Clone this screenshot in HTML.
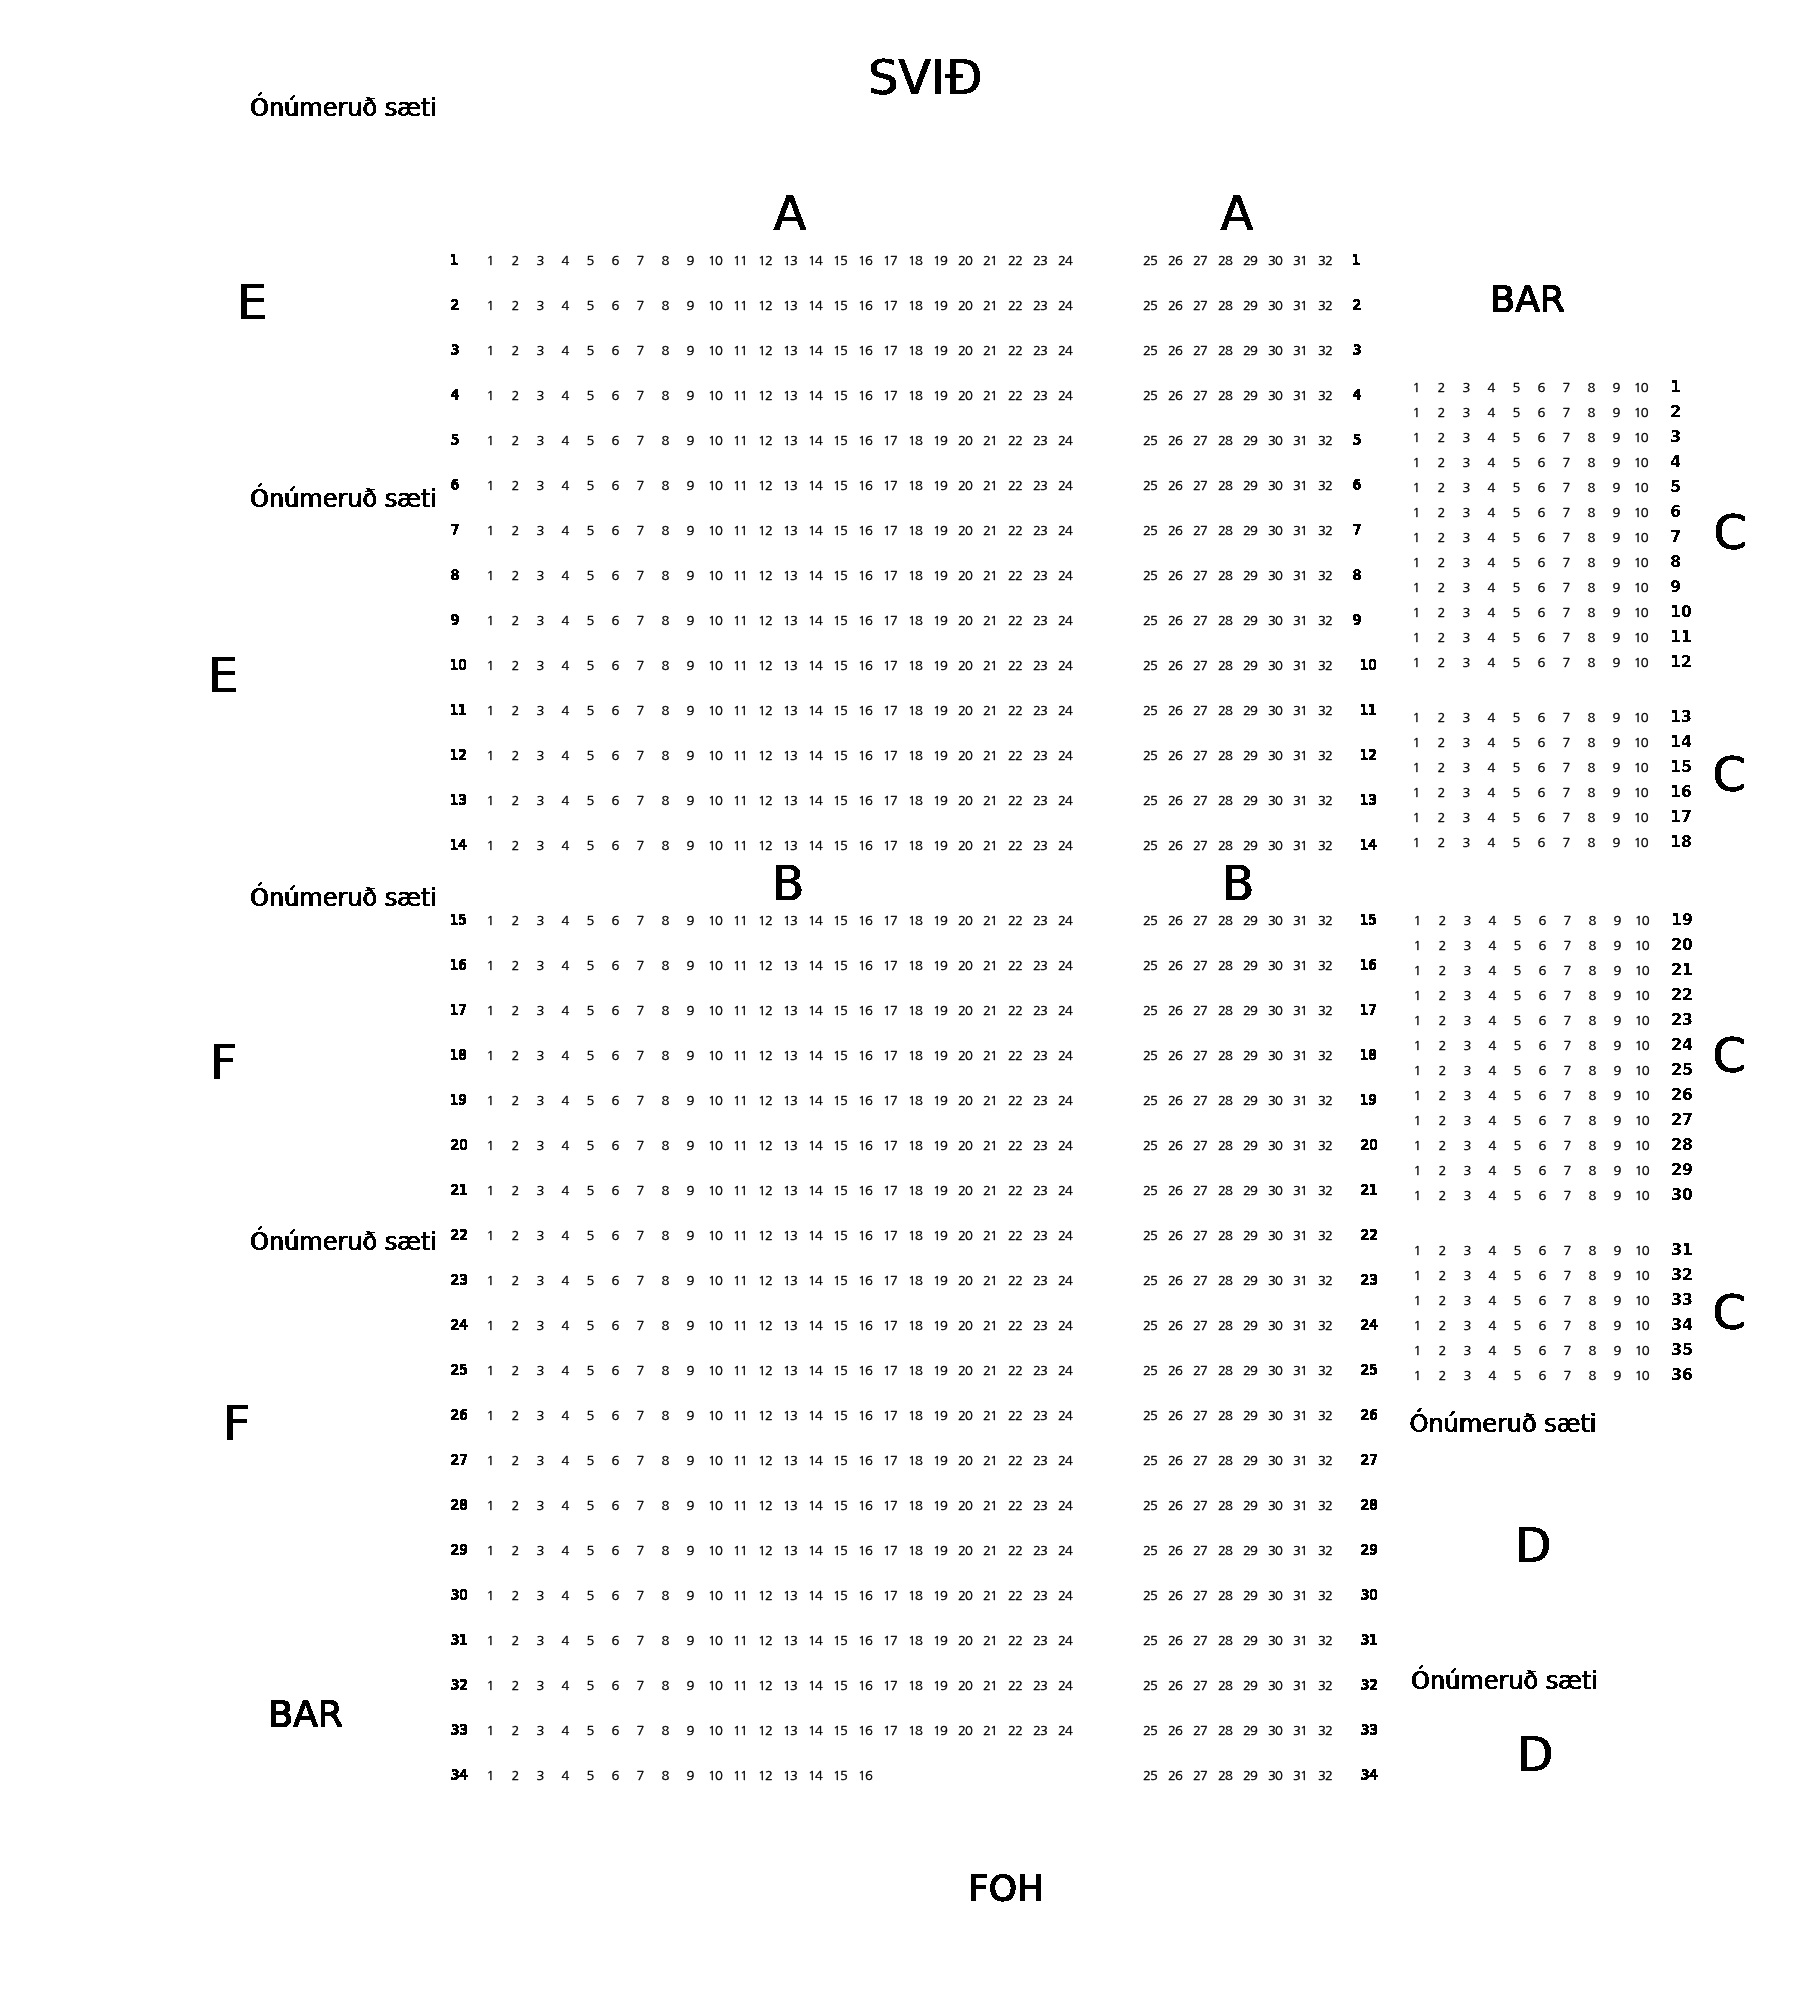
<!DOCTYPE html>
<html lang="is"><head><meta charset="utf-8"><title>Salur</title>
<style>
html,body{margin:0;padding:0;background:#fff}
svg{display:block}
text{fill:#000;white-space:pre}
.s{font-family:"NanumGothic", "Liberation Sans", sans-serif;font-size:13px;letter-spacing:-0.8px;stroke:#000;stroke-width:0.4px}
.rl{font-family:"DejaVu Sans Condensed", "DejaVu Sans", sans-serif;font-size:14.9px;}
.cl{font-family:"DejaVu Sans", sans-serif;font-size:15.5px;font-weight:bold}
.b48{font-family:"DejaVu Sans", sans-serif;font-size:48px}
.b36{font-family:"DejaVu Sans", sans-serif;font-size:36px}
.b24{font-family:"DejaVu Sans", sans-serif;font-size:24px}
</style></head>
<body>
<svg width="1820" height="1990" viewBox="0 0 1820 1990">
<rect width="1820" height="1990" fill="#fff"/>
<defs>
<filter id="th" x="0" y="0" width="1820" height="1990" filterUnits="userSpaceOnUse" color-interpolation-filters="sRGB"><feComponentTransfer><feFuncA type="linear" slope="1" intercept="0"/></feComponentTransfer></filter>
<filter id="thp" x="0" y="0" width="1820" height="1990" filterUnits="userSpaceOnUse" color-interpolation-filters="sRGB"><feComponentTransfer><feFuncA type="discrete" tableValues="0 0 0 0 1 1 1 1 1 1"/></feComponentTransfer></filter>
<filter id="fb2" x="0" y="0" width="1820" height="1990" filterUnits="userSpaceOnUse" color-interpolation-filters="sRGB"><feComponentTransfer result="t"><feFuncA type="discrete" tableValues="0 0 0 0 1 1 1 1 1 1"/></feComponentTransfer><feOffset in="t" dx="1" dy="0" result="o"/><feMerge result="m"><feMergeNode in="t"/><feMergeNode in="o"/></feMerge><feOffset in="m" dx="0" dy="-1" result="u"/><feMerge><feMergeNode in="m"/><feMergeNode in="u"/></feMerge></filter>
<filter id="fb" x="0" y="0" width="1820" height="1990" filterUnits="userSpaceOnUse" color-interpolation-filters="sRGB"><feComponentTransfer result="t"><feFuncA type="discrete" tableValues="0 0 0 0 1 1 1 1 1 1"/></feComponentTransfer><feOffset in="t" dx="1" dy="0" result="o"/><feMerge><feMergeNode in="t"/><feMergeNode in="o"/></feMerge></filter>
</defs>
<g filter="url(#th)">
<text class="s" x="490" y="265" text-anchor="middle">1</text>
<text class="s" x="515" y="265" text-anchor="middle">2</text>
<text class="s" x="540" y="265" text-anchor="middle">3</text>
<text class="s" x="565" y="265" text-anchor="middle">4</text>
<text class="s" x="590" y="265" text-anchor="middle">5</text>
<text class="s" x="615" y="265" text-anchor="middle">6</text>
<text class="s" x="640" y="265" text-anchor="middle">7</text>
<text class="s" x="665" y="265" text-anchor="middle">8</text>
<text class="s" x="690" y="265" text-anchor="middle">9</text>
<text class="s" x="715" y="265" text-anchor="middle">10</text>
<text class="s" x="740" y="265" text-anchor="middle">11</text>
<text class="s" x="765" y="265" text-anchor="middle">12</text>
<text class="s" x="790" y="265" text-anchor="middle">13</text>
<text class="s" x="815" y="265" text-anchor="middle">14</text>
<text class="s" x="840" y="265" text-anchor="middle">15</text>
<text class="s" x="865" y="265" text-anchor="middle">16</text>
<text class="s" x="890" y="265" text-anchor="middle">17</text>
<text class="s" x="915" y="265" text-anchor="middle">18</text>
<text class="s" x="940" y="265" text-anchor="middle">19</text>
<text class="s" x="965" y="265" text-anchor="middle">20</text>
<text class="s" x="990" y="265" text-anchor="middle">21</text>
<text class="s" x="1015" y="265" text-anchor="middle">22</text>
<text class="s" x="1040" y="265" text-anchor="middle">23</text>
<text class="s" x="1065" y="265" text-anchor="middle">24</text>
<text class="s" x="1150" y="265" text-anchor="middle">25</text>
<text class="s" x="1175" y="265" text-anchor="middle">26</text>
<text class="s" x="1200" y="265" text-anchor="middle">27</text>
<text class="s" x="1225" y="265" text-anchor="middle">28</text>
<text class="s" x="1250" y="265" text-anchor="middle">29</text>
<text class="s" x="1275" y="265" text-anchor="middle">30</text>
<text class="s" x="1300" y="265" text-anchor="middle">31</text>
<text class="s" x="1325" y="265" text-anchor="middle">32</text>
<text class="s" x="490" y="310" text-anchor="middle">1</text>
<text class="s" x="515" y="310" text-anchor="middle">2</text>
<text class="s" x="540" y="310" text-anchor="middle">3</text>
<text class="s" x="565" y="310" text-anchor="middle">4</text>
<text class="s" x="590" y="310" text-anchor="middle">5</text>
<text class="s" x="615" y="310" text-anchor="middle">6</text>
<text class="s" x="640" y="310" text-anchor="middle">7</text>
<text class="s" x="665" y="310" text-anchor="middle">8</text>
<text class="s" x="690" y="310" text-anchor="middle">9</text>
<text class="s" x="715" y="310" text-anchor="middle">10</text>
<text class="s" x="740" y="310" text-anchor="middle">11</text>
<text class="s" x="765" y="310" text-anchor="middle">12</text>
<text class="s" x="790" y="310" text-anchor="middle">13</text>
<text class="s" x="815" y="310" text-anchor="middle">14</text>
<text class="s" x="840" y="310" text-anchor="middle">15</text>
<text class="s" x="865" y="310" text-anchor="middle">16</text>
<text class="s" x="890" y="310" text-anchor="middle">17</text>
<text class="s" x="915" y="310" text-anchor="middle">18</text>
<text class="s" x="940" y="310" text-anchor="middle">19</text>
<text class="s" x="965" y="310" text-anchor="middle">20</text>
<text class="s" x="990" y="310" text-anchor="middle">21</text>
<text class="s" x="1015" y="310" text-anchor="middle">22</text>
<text class="s" x="1040" y="310" text-anchor="middle">23</text>
<text class="s" x="1065" y="310" text-anchor="middle">24</text>
<text class="s" x="1150" y="310" text-anchor="middle">25</text>
<text class="s" x="1175" y="310" text-anchor="middle">26</text>
<text class="s" x="1200" y="310" text-anchor="middle">27</text>
<text class="s" x="1225" y="310" text-anchor="middle">28</text>
<text class="s" x="1250" y="310" text-anchor="middle">29</text>
<text class="s" x="1275" y="310" text-anchor="middle">30</text>
<text class="s" x="1300" y="310" text-anchor="middle">31</text>
<text class="s" x="1325" y="310" text-anchor="middle">32</text>
<text class="s" x="490" y="355" text-anchor="middle">1</text>
<text class="s" x="515" y="355" text-anchor="middle">2</text>
<text class="s" x="540" y="355" text-anchor="middle">3</text>
<text class="s" x="565" y="355" text-anchor="middle">4</text>
<text class="s" x="590" y="355" text-anchor="middle">5</text>
<text class="s" x="615" y="355" text-anchor="middle">6</text>
<text class="s" x="640" y="355" text-anchor="middle">7</text>
<text class="s" x="665" y="355" text-anchor="middle">8</text>
<text class="s" x="690" y="355" text-anchor="middle">9</text>
<text class="s" x="715" y="355" text-anchor="middle">10</text>
<text class="s" x="740" y="355" text-anchor="middle">11</text>
<text class="s" x="765" y="355" text-anchor="middle">12</text>
<text class="s" x="790" y="355" text-anchor="middle">13</text>
<text class="s" x="815" y="355" text-anchor="middle">14</text>
<text class="s" x="840" y="355" text-anchor="middle">15</text>
<text class="s" x="865" y="355" text-anchor="middle">16</text>
<text class="s" x="890" y="355" text-anchor="middle">17</text>
<text class="s" x="915" y="355" text-anchor="middle">18</text>
<text class="s" x="940" y="355" text-anchor="middle">19</text>
<text class="s" x="965" y="355" text-anchor="middle">20</text>
<text class="s" x="990" y="355" text-anchor="middle">21</text>
<text class="s" x="1015" y="355" text-anchor="middle">22</text>
<text class="s" x="1040" y="355" text-anchor="middle">23</text>
<text class="s" x="1065" y="355" text-anchor="middle">24</text>
<text class="s" x="1150" y="355" text-anchor="middle">25</text>
<text class="s" x="1175" y="355" text-anchor="middle">26</text>
<text class="s" x="1200" y="355" text-anchor="middle">27</text>
<text class="s" x="1225" y="355" text-anchor="middle">28</text>
<text class="s" x="1250" y="355" text-anchor="middle">29</text>
<text class="s" x="1275" y="355" text-anchor="middle">30</text>
<text class="s" x="1300" y="355" text-anchor="middle">31</text>
<text class="s" x="1325" y="355" text-anchor="middle">32</text>
<text class="s" x="490" y="400" text-anchor="middle">1</text>
<text class="s" x="515" y="400" text-anchor="middle">2</text>
<text class="s" x="540" y="400" text-anchor="middle">3</text>
<text class="s" x="565" y="400" text-anchor="middle">4</text>
<text class="s" x="590" y="400" text-anchor="middle">5</text>
<text class="s" x="615" y="400" text-anchor="middle">6</text>
<text class="s" x="640" y="400" text-anchor="middle">7</text>
<text class="s" x="665" y="400" text-anchor="middle">8</text>
<text class="s" x="690" y="400" text-anchor="middle">9</text>
<text class="s" x="715" y="400" text-anchor="middle">10</text>
<text class="s" x="740" y="400" text-anchor="middle">11</text>
<text class="s" x="765" y="400" text-anchor="middle">12</text>
<text class="s" x="790" y="400" text-anchor="middle">13</text>
<text class="s" x="815" y="400" text-anchor="middle">14</text>
<text class="s" x="840" y="400" text-anchor="middle">15</text>
<text class="s" x="865" y="400" text-anchor="middle">16</text>
<text class="s" x="890" y="400" text-anchor="middle">17</text>
<text class="s" x="915" y="400" text-anchor="middle">18</text>
<text class="s" x="940" y="400" text-anchor="middle">19</text>
<text class="s" x="965" y="400" text-anchor="middle">20</text>
<text class="s" x="990" y="400" text-anchor="middle">21</text>
<text class="s" x="1015" y="400" text-anchor="middle">22</text>
<text class="s" x="1040" y="400" text-anchor="middle">23</text>
<text class="s" x="1065" y="400" text-anchor="middle">24</text>
<text class="s" x="1150" y="400" text-anchor="middle">25</text>
<text class="s" x="1175" y="400" text-anchor="middle">26</text>
<text class="s" x="1200" y="400" text-anchor="middle">27</text>
<text class="s" x="1225" y="400" text-anchor="middle">28</text>
<text class="s" x="1250" y="400" text-anchor="middle">29</text>
<text class="s" x="1275" y="400" text-anchor="middle">30</text>
<text class="s" x="1300" y="400" text-anchor="middle">31</text>
<text class="s" x="1325" y="400" text-anchor="middle">32</text>
<text class="s" x="490" y="445" text-anchor="middle">1</text>
<text class="s" x="515" y="445" text-anchor="middle">2</text>
<text class="s" x="540" y="445" text-anchor="middle">3</text>
<text class="s" x="565" y="445" text-anchor="middle">4</text>
<text class="s" x="590" y="445" text-anchor="middle">5</text>
<text class="s" x="615" y="445" text-anchor="middle">6</text>
<text class="s" x="640" y="445" text-anchor="middle">7</text>
<text class="s" x="665" y="445" text-anchor="middle">8</text>
<text class="s" x="690" y="445" text-anchor="middle">9</text>
<text class="s" x="715" y="445" text-anchor="middle">10</text>
<text class="s" x="740" y="445" text-anchor="middle">11</text>
<text class="s" x="765" y="445" text-anchor="middle">12</text>
<text class="s" x="790" y="445" text-anchor="middle">13</text>
<text class="s" x="815" y="445" text-anchor="middle">14</text>
<text class="s" x="840" y="445" text-anchor="middle">15</text>
<text class="s" x="865" y="445" text-anchor="middle">16</text>
<text class="s" x="890" y="445" text-anchor="middle">17</text>
<text class="s" x="915" y="445" text-anchor="middle">18</text>
<text class="s" x="940" y="445" text-anchor="middle">19</text>
<text class="s" x="965" y="445" text-anchor="middle">20</text>
<text class="s" x="990" y="445" text-anchor="middle">21</text>
<text class="s" x="1015" y="445" text-anchor="middle">22</text>
<text class="s" x="1040" y="445" text-anchor="middle">23</text>
<text class="s" x="1065" y="445" text-anchor="middle">24</text>
<text class="s" x="1150" y="445" text-anchor="middle">25</text>
<text class="s" x="1175" y="445" text-anchor="middle">26</text>
<text class="s" x="1200" y="445" text-anchor="middle">27</text>
<text class="s" x="1225" y="445" text-anchor="middle">28</text>
<text class="s" x="1250" y="445" text-anchor="middle">29</text>
<text class="s" x="1275" y="445" text-anchor="middle">30</text>
<text class="s" x="1300" y="445" text-anchor="middle">31</text>
<text class="s" x="1325" y="445" text-anchor="middle">32</text>
<text class="s" x="490" y="490" text-anchor="middle">1</text>
<text class="s" x="515" y="490" text-anchor="middle">2</text>
<text class="s" x="540" y="490" text-anchor="middle">3</text>
<text class="s" x="565" y="490" text-anchor="middle">4</text>
<text class="s" x="590" y="490" text-anchor="middle">5</text>
<text class="s" x="615" y="490" text-anchor="middle">6</text>
<text class="s" x="640" y="490" text-anchor="middle">7</text>
<text class="s" x="665" y="490" text-anchor="middle">8</text>
<text class="s" x="690" y="490" text-anchor="middle">9</text>
<text class="s" x="715" y="490" text-anchor="middle">10</text>
<text class="s" x="740" y="490" text-anchor="middle">11</text>
<text class="s" x="765" y="490" text-anchor="middle">12</text>
<text class="s" x="790" y="490" text-anchor="middle">13</text>
<text class="s" x="815" y="490" text-anchor="middle">14</text>
<text class="s" x="840" y="490" text-anchor="middle">15</text>
<text class="s" x="865" y="490" text-anchor="middle">16</text>
<text class="s" x="890" y="490" text-anchor="middle">17</text>
<text class="s" x="915" y="490" text-anchor="middle">18</text>
<text class="s" x="940" y="490" text-anchor="middle">19</text>
<text class="s" x="965" y="490" text-anchor="middle">20</text>
<text class="s" x="990" y="490" text-anchor="middle">21</text>
<text class="s" x="1015" y="490" text-anchor="middle">22</text>
<text class="s" x="1040" y="490" text-anchor="middle">23</text>
<text class="s" x="1065" y="490" text-anchor="middle">24</text>
<text class="s" x="1150" y="490" text-anchor="middle">25</text>
<text class="s" x="1175" y="490" text-anchor="middle">26</text>
<text class="s" x="1200" y="490" text-anchor="middle">27</text>
<text class="s" x="1225" y="490" text-anchor="middle">28</text>
<text class="s" x="1250" y="490" text-anchor="middle">29</text>
<text class="s" x="1275" y="490" text-anchor="middle">30</text>
<text class="s" x="1300" y="490" text-anchor="middle">31</text>
<text class="s" x="1325" y="490" text-anchor="middle">32</text>
<text class="s" x="490" y="535" text-anchor="middle">1</text>
<text class="s" x="515" y="535" text-anchor="middle">2</text>
<text class="s" x="540" y="535" text-anchor="middle">3</text>
<text class="s" x="565" y="535" text-anchor="middle">4</text>
<text class="s" x="590" y="535" text-anchor="middle">5</text>
<text class="s" x="615" y="535" text-anchor="middle">6</text>
<text class="s" x="640" y="535" text-anchor="middle">7</text>
<text class="s" x="665" y="535" text-anchor="middle">8</text>
<text class="s" x="690" y="535" text-anchor="middle">9</text>
<text class="s" x="715" y="535" text-anchor="middle">10</text>
<text class="s" x="740" y="535" text-anchor="middle">11</text>
<text class="s" x="765" y="535" text-anchor="middle">12</text>
<text class="s" x="790" y="535" text-anchor="middle">13</text>
<text class="s" x="815" y="535" text-anchor="middle">14</text>
<text class="s" x="840" y="535" text-anchor="middle">15</text>
<text class="s" x="865" y="535" text-anchor="middle">16</text>
<text class="s" x="890" y="535" text-anchor="middle">17</text>
<text class="s" x="915" y="535" text-anchor="middle">18</text>
<text class="s" x="940" y="535" text-anchor="middle">19</text>
<text class="s" x="965" y="535" text-anchor="middle">20</text>
<text class="s" x="990" y="535" text-anchor="middle">21</text>
<text class="s" x="1015" y="535" text-anchor="middle">22</text>
<text class="s" x="1040" y="535" text-anchor="middle">23</text>
<text class="s" x="1065" y="535" text-anchor="middle">24</text>
<text class="s" x="1150" y="535" text-anchor="middle">25</text>
<text class="s" x="1175" y="535" text-anchor="middle">26</text>
<text class="s" x="1200" y="535" text-anchor="middle">27</text>
<text class="s" x="1225" y="535" text-anchor="middle">28</text>
<text class="s" x="1250" y="535" text-anchor="middle">29</text>
<text class="s" x="1275" y="535" text-anchor="middle">30</text>
<text class="s" x="1300" y="535" text-anchor="middle">31</text>
<text class="s" x="1325" y="535" text-anchor="middle">32</text>
<text class="s" x="490" y="580" text-anchor="middle">1</text>
<text class="s" x="515" y="580" text-anchor="middle">2</text>
<text class="s" x="540" y="580" text-anchor="middle">3</text>
<text class="s" x="565" y="580" text-anchor="middle">4</text>
<text class="s" x="590" y="580" text-anchor="middle">5</text>
<text class="s" x="615" y="580" text-anchor="middle">6</text>
<text class="s" x="640" y="580" text-anchor="middle">7</text>
<text class="s" x="665" y="580" text-anchor="middle">8</text>
<text class="s" x="690" y="580" text-anchor="middle">9</text>
<text class="s" x="715" y="580" text-anchor="middle">10</text>
<text class="s" x="740" y="580" text-anchor="middle">11</text>
<text class="s" x="765" y="580" text-anchor="middle">12</text>
<text class="s" x="790" y="580" text-anchor="middle">13</text>
<text class="s" x="815" y="580" text-anchor="middle">14</text>
<text class="s" x="840" y="580" text-anchor="middle">15</text>
<text class="s" x="865" y="580" text-anchor="middle">16</text>
<text class="s" x="890" y="580" text-anchor="middle">17</text>
<text class="s" x="915" y="580" text-anchor="middle">18</text>
<text class="s" x="940" y="580" text-anchor="middle">19</text>
<text class="s" x="965" y="580" text-anchor="middle">20</text>
<text class="s" x="990" y="580" text-anchor="middle">21</text>
<text class="s" x="1015" y="580" text-anchor="middle">22</text>
<text class="s" x="1040" y="580" text-anchor="middle">23</text>
<text class="s" x="1065" y="580" text-anchor="middle">24</text>
<text class="s" x="1150" y="580" text-anchor="middle">25</text>
<text class="s" x="1175" y="580" text-anchor="middle">26</text>
<text class="s" x="1200" y="580" text-anchor="middle">27</text>
<text class="s" x="1225" y="580" text-anchor="middle">28</text>
<text class="s" x="1250" y="580" text-anchor="middle">29</text>
<text class="s" x="1275" y="580" text-anchor="middle">30</text>
<text class="s" x="1300" y="580" text-anchor="middle">31</text>
<text class="s" x="1325" y="580" text-anchor="middle">32</text>
<text class="s" x="490" y="625" text-anchor="middle">1</text>
<text class="s" x="515" y="625" text-anchor="middle">2</text>
<text class="s" x="540" y="625" text-anchor="middle">3</text>
<text class="s" x="565" y="625" text-anchor="middle">4</text>
<text class="s" x="590" y="625" text-anchor="middle">5</text>
<text class="s" x="615" y="625" text-anchor="middle">6</text>
<text class="s" x="640" y="625" text-anchor="middle">7</text>
<text class="s" x="665" y="625" text-anchor="middle">8</text>
<text class="s" x="690" y="625" text-anchor="middle">9</text>
<text class="s" x="715" y="625" text-anchor="middle">10</text>
<text class="s" x="740" y="625" text-anchor="middle">11</text>
<text class="s" x="765" y="625" text-anchor="middle">12</text>
<text class="s" x="790" y="625" text-anchor="middle">13</text>
<text class="s" x="815" y="625" text-anchor="middle">14</text>
<text class="s" x="840" y="625" text-anchor="middle">15</text>
<text class="s" x="865" y="625" text-anchor="middle">16</text>
<text class="s" x="890" y="625" text-anchor="middle">17</text>
<text class="s" x="915" y="625" text-anchor="middle">18</text>
<text class="s" x="940" y="625" text-anchor="middle">19</text>
<text class="s" x="965" y="625" text-anchor="middle">20</text>
<text class="s" x="990" y="625" text-anchor="middle">21</text>
<text class="s" x="1015" y="625" text-anchor="middle">22</text>
<text class="s" x="1040" y="625" text-anchor="middle">23</text>
<text class="s" x="1065" y="625" text-anchor="middle">24</text>
<text class="s" x="1150" y="625" text-anchor="middle">25</text>
<text class="s" x="1175" y="625" text-anchor="middle">26</text>
<text class="s" x="1200" y="625" text-anchor="middle">27</text>
<text class="s" x="1225" y="625" text-anchor="middle">28</text>
<text class="s" x="1250" y="625" text-anchor="middle">29</text>
<text class="s" x="1275" y="625" text-anchor="middle">30</text>
<text class="s" x="1300" y="625" text-anchor="middle">31</text>
<text class="s" x="1325" y="625" text-anchor="middle">32</text>
<text class="s" x="490" y="670" text-anchor="middle">1</text>
<text class="s" x="515" y="670" text-anchor="middle">2</text>
<text class="s" x="540" y="670" text-anchor="middle">3</text>
<text class="s" x="565" y="670" text-anchor="middle">4</text>
<text class="s" x="590" y="670" text-anchor="middle">5</text>
<text class="s" x="615" y="670" text-anchor="middle">6</text>
<text class="s" x="640" y="670" text-anchor="middle">7</text>
<text class="s" x="665" y="670" text-anchor="middle">8</text>
<text class="s" x="690" y="670" text-anchor="middle">9</text>
<text class="s" x="715" y="670" text-anchor="middle">10</text>
<text class="s" x="740" y="670" text-anchor="middle">11</text>
<text class="s" x="765" y="670" text-anchor="middle">12</text>
<text class="s" x="790" y="670" text-anchor="middle">13</text>
<text class="s" x="815" y="670" text-anchor="middle">14</text>
<text class="s" x="840" y="670" text-anchor="middle">15</text>
<text class="s" x="865" y="670" text-anchor="middle">16</text>
<text class="s" x="890" y="670" text-anchor="middle">17</text>
<text class="s" x="915" y="670" text-anchor="middle">18</text>
<text class="s" x="940" y="670" text-anchor="middle">19</text>
<text class="s" x="965" y="670" text-anchor="middle">20</text>
<text class="s" x="990" y="670" text-anchor="middle">21</text>
<text class="s" x="1015" y="670" text-anchor="middle">22</text>
<text class="s" x="1040" y="670" text-anchor="middle">23</text>
<text class="s" x="1065" y="670" text-anchor="middle">24</text>
<text class="s" x="1150" y="670" text-anchor="middle">25</text>
<text class="s" x="1175" y="670" text-anchor="middle">26</text>
<text class="s" x="1200" y="670" text-anchor="middle">27</text>
<text class="s" x="1225" y="670" text-anchor="middle">28</text>
<text class="s" x="1250" y="670" text-anchor="middle">29</text>
<text class="s" x="1275" y="670" text-anchor="middle">30</text>
<text class="s" x="1300" y="670" text-anchor="middle">31</text>
<text class="s" x="1325" y="670" text-anchor="middle">32</text>
<text class="s" x="490" y="715" text-anchor="middle">1</text>
<text class="s" x="515" y="715" text-anchor="middle">2</text>
<text class="s" x="540" y="715" text-anchor="middle">3</text>
<text class="s" x="565" y="715" text-anchor="middle">4</text>
<text class="s" x="590" y="715" text-anchor="middle">5</text>
<text class="s" x="615" y="715" text-anchor="middle">6</text>
<text class="s" x="640" y="715" text-anchor="middle">7</text>
<text class="s" x="665" y="715" text-anchor="middle">8</text>
<text class="s" x="690" y="715" text-anchor="middle">9</text>
<text class="s" x="715" y="715" text-anchor="middle">10</text>
<text class="s" x="740" y="715" text-anchor="middle">11</text>
<text class="s" x="765" y="715" text-anchor="middle">12</text>
<text class="s" x="790" y="715" text-anchor="middle">13</text>
<text class="s" x="815" y="715" text-anchor="middle">14</text>
<text class="s" x="840" y="715" text-anchor="middle">15</text>
<text class="s" x="865" y="715" text-anchor="middle">16</text>
<text class="s" x="890" y="715" text-anchor="middle">17</text>
<text class="s" x="915" y="715" text-anchor="middle">18</text>
<text class="s" x="940" y="715" text-anchor="middle">19</text>
<text class="s" x="965" y="715" text-anchor="middle">20</text>
<text class="s" x="990" y="715" text-anchor="middle">21</text>
<text class="s" x="1015" y="715" text-anchor="middle">22</text>
<text class="s" x="1040" y="715" text-anchor="middle">23</text>
<text class="s" x="1065" y="715" text-anchor="middle">24</text>
<text class="s" x="1150" y="715" text-anchor="middle">25</text>
<text class="s" x="1175" y="715" text-anchor="middle">26</text>
<text class="s" x="1200" y="715" text-anchor="middle">27</text>
<text class="s" x="1225" y="715" text-anchor="middle">28</text>
<text class="s" x="1250" y="715" text-anchor="middle">29</text>
<text class="s" x="1275" y="715" text-anchor="middle">30</text>
<text class="s" x="1300" y="715" text-anchor="middle">31</text>
<text class="s" x="1325" y="715" text-anchor="middle">32</text>
<text class="s" x="490" y="760" text-anchor="middle">1</text>
<text class="s" x="515" y="760" text-anchor="middle">2</text>
<text class="s" x="540" y="760" text-anchor="middle">3</text>
<text class="s" x="565" y="760" text-anchor="middle">4</text>
<text class="s" x="590" y="760" text-anchor="middle">5</text>
<text class="s" x="615" y="760" text-anchor="middle">6</text>
<text class="s" x="640" y="760" text-anchor="middle">7</text>
<text class="s" x="665" y="760" text-anchor="middle">8</text>
<text class="s" x="690" y="760" text-anchor="middle">9</text>
<text class="s" x="715" y="760" text-anchor="middle">10</text>
<text class="s" x="740" y="760" text-anchor="middle">11</text>
<text class="s" x="765" y="760" text-anchor="middle">12</text>
<text class="s" x="790" y="760" text-anchor="middle">13</text>
<text class="s" x="815" y="760" text-anchor="middle">14</text>
<text class="s" x="840" y="760" text-anchor="middle">15</text>
<text class="s" x="865" y="760" text-anchor="middle">16</text>
<text class="s" x="890" y="760" text-anchor="middle">17</text>
<text class="s" x="915" y="760" text-anchor="middle">18</text>
<text class="s" x="940" y="760" text-anchor="middle">19</text>
<text class="s" x="965" y="760" text-anchor="middle">20</text>
<text class="s" x="990" y="760" text-anchor="middle">21</text>
<text class="s" x="1015" y="760" text-anchor="middle">22</text>
<text class="s" x="1040" y="760" text-anchor="middle">23</text>
<text class="s" x="1065" y="760" text-anchor="middle">24</text>
<text class="s" x="1150" y="760" text-anchor="middle">25</text>
<text class="s" x="1175" y="760" text-anchor="middle">26</text>
<text class="s" x="1200" y="760" text-anchor="middle">27</text>
<text class="s" x="1225" y="760" text-anchor="middle">28</text>
<text class="s" x="1250" y="760" text-anchor="middle">29</text>
<text class="s" x="1275" y="760" text-anchor="middle">30</text>
<text class="s" x="1300" y="760" text-anchor="middle">31</text>
<text class="s" x="1325" y="760" text-anchor="middle">32</text>
<text class="s" x="490" y="805" text-anchor="middle">1</text>
<text class="s" x="515" y="805" text-anchor="middle">2</text>
<text class="s" x="540" y="805" text-anchor="middle">3</text>
<text class="s" x="565" y="805" text-anchor="middle">4</text>
<text class="s" x="590" y="805" text-anchor="middle">5</text>
<text class="s" x="615" y="805" text-anchor="middle">6</text>
<text class="s" x="640" y="805" text-anchor="middle">7</text>
<text class="s" x="665" y="805" text-anchor="middle">8</text>
<text class="s" x="690" y="805" text-anchor="middle">9</text>
<text class="s" x="715" y="805" text-anchor="middle">10</text>
<text class="s" x="740" y="805" text-anchor="middle">11</text>
<text class="s" x="765" y="805" text-anchor="middle">12</text>
<text class="s" x="790" y="805" text-anchor="middle">13</text>
<text class="s" x="815" y="805" text-anchor="middle">14</text>
<text class="s" x="840" y="805" text-anchor="middle">15</text>
<text class="s" x="865" y="805" text-anchor="middle">16</text>
<text class="s" x="890" y="805" text-anchor="middle">17</text>
<text class="s" x="915" y="805" text-anchor="middle">18</text>
<text class="s" x="940" y="805" text-anchor="middle">19</text>
<text class="s" x="965" y="805" text-anchor="middle">20</text>
<text class="s" x="990" y="805" text-anchor="middle">21</text>
<text class="s" x="1015" y="805" text-anchor="middle">22</text>
<text class="s" x="1040" y="805" text-anchor="middle">23</text>
<text class="s" x="1065" y="805" text-anchor="middle">24</text>
<text class="s" x="1150" y="805" text-anchor="middle">25</text>
<text class="s" x="1175" y="805" text-anchor="middle">26</text>
<text class="s" x="1200" y="805" text-anchor="middle">27</text>
<text class="s" x="1225" y="805" text-anchor="middle">28</text>
<text class="s" x="1250" y="805" text-anchor="middle">29</text>
<text class="s" x="1275" y="805" text-anchor="middle">30</text>
<text class="s" x="1300" y="805" text-anchor="middle">31</text>
<text class="s" x="1325" y="805" text-anchor="middle">32</text>
<text class="s" x="490" y="850" text-anchor="middle">1</text>
<text class="s" x="515" y="850" text-anchor="middle">2</text>
<text class="s" x="540" y="850" text-anchor="middle">3</text>
<text class="s" x="565" y="850" text-anchor="middle">4</text>
<text class="s" x="590" y="850" text-anchor="middle">5</text>
<text class="s" x="615" y="850" text-anchor="middle">6</text>
<text class="s" x="640" y="850" text-anchor="middle">7</text>
<text class="s" x="665" y="850" text-anchor="middle">8</text>
<text class="s" x="690" y="850" text-anchor="middle">9</text>
<text class="s" x="715" y="850" text-anchor="middle">10</text>
<text class="s" x="740" y="850" text-anchor="middle">11</text>
<text class="s" x="765" y="850" text-anchor="middle">12</text>
<text class="s" x="790" y="850" text-anchor="middle">13</text>
<text class="s" x="815" y="850" text-anchor="middle">14</text>
<text class="s" x="840" y="850" text-anchor="middle">15</text>
<text class="s" x="865" y="850" text-anchor="middle">16</text>
<text class="s" x="890" y="850" text-anchor="middle">17</text>
<text class="s" x="915" y="850" text-anchor="middle">18</text>
<text class="s" x="940" y="850" text-anchor="middle">19</text>
<text class="s" x="965" y="850" text-anchor="middle">20</text>
<text class="s" x="990" y="850" text-anchor="middle">21</text>
<text class="s" x="1015" y="850" text-anchor="middle">22</text>
<text class="s" x="1040" y="850" text-anchor="middle">23</text>
<text class="s" x="1065" y="850" text-anchor="middle">24</text>
<text class="s" x="1150" y="850" text-anchor="middle">25</text>
<text class="s" x="1175" y="850" text-anchor="middle">26</text>
<text class="s" x="1200" y="850" text-anchor="middle">27</text>
<text class="s" x="1225" y="850" text-anchor="middle">28</text>
<text class="s" x="1250" y="850" text-anchor="middle">29</text>
<text class="s" x="1275" y="850" text-anchor="middle">30</text>
<text class="s" x="1300" y="850" text-anchor="middle">31</text>
<text class="s" x="1325" y="850" text-anchor="middle">32</text>
<text class="s" x="490" y="925" text-anchor="middle">1</text>
<text class="s" x="515" y="925" text-anchor="middle">2</text>
<text class="s" x="540" y="925" text-anchor="middle">3</text>
<text class="s" x="565" y="925" text-anchor="middle">4</text>
<text class="s" x="590" y="925" text-anchor="middle">5</text>
<text class="s" x="615" y="925" text-anchor="middle">6</text>
<text class="s" x="640" y="925" text-anchor="middle">7</text>
<text class="s" x="665" y="925" text-anchor="middle">8</text>
<text class="s" x="690" y="925" text-anchor="middle">9</text>
<text class="s" x="715" y="925" text-anchor="middle">10</text>
<text class="s" x="740" y="925" text-anchor="middle">11</text>
<text class="s" x="765" y="925" text-anchor="middle">12</text>
<text class="s" x="790" y="925" text-anchor="middle">13</text>
<text class="s" x="815" y="925" text-anchor="middle">14</text>
<text class="s" x="840" y="925" text-anchor="middle">15</text>
<text class="s" x="865" y="925" text-anchor="middle">16</text>
<text class="s" x="890" y="925" text-anchor="middle">17</text>
<text class="s" x="915" y="925" text-anchor="middle">18</text>
<text class="s" x="940" y="925" text-anchor="middle">19</text>
<text class="s" x="965" y="925" text-anchor="middle">20</text>
<text class="s" x="990" y="925" text-anchor="middle">21</text>
<text class="s" x="1015" y="925" text-anchor="middle">22</text>
<text class="s" x="1040" y="925" text-anchor="middle">23</text>
<text class="s" x="1065" y="925" text-anchor="middle">24</text>
<text class="s" x="1150" y="925" text-anchor="middle">25</text>
<text class="s" x="1175" y="925" text-anchor="middle">26</text>
<text class="s" x="1200" y="925" text-anchor="middle">27</text>
<text class="s" x="1225" y="925" text-anchor="middle">28</text>
<text class="s" x="1250" y="925" text-anchor="middle">29</text>
<text class="s" x="1275" y="925" text-anchor="middle">30</text>
<text class="s" x="1300" y="925" text-anchor="middle">31</text>
<text class="s" x="1325" y="925" text-anchor="middle">32</text>
<text class="s" x="490" y="970" text-anchor="middle">1</text>
<text class="s" x="515" y="970" text-anchor="middle">2</text>
<text class="s" x="540" y="970" text-anchor="middle">3</text>
<text class="s" x="565" y="970" text-anchor="middle">4</text>
<text class="s" x="590" y="970" text-anchor="middle">5</text>
<text class="s" x="615" y="970" text-anchor="middle">6</text>
<text class="s" x="640" y="970" text-anchor="middle">7</text>
<text class="s" x="665" y="970" text-anchor="middle">8</text>
<text class="s" x="690" y="970" text-anchor="middle">9</text>
<text class="s" x="715" y="970" text-anchor="middle">10</text>
<text class="s" x="740" y="970" text-anchor="middle">11</text>
<text class="s" x="765" y="970" text-anchor="middle">12</text>
<text class="s" x="790" y="970" text-anchor="middle">13</text>
<text class="s" x="815" y="970" text-anchor="middle">14</text>
<text class="s" x="840" y="970" text-anchor="middle">15</text>
<text class="s" x="865" y="970" text-anchor="middle">16</text>
<text class="s" x="890" y="970" text-anchor="middle">17</text>
<text class="s" x="915" y="970" text-anchor="middle">18</text>
<text class="s" x="940" y="970" text-anchor="middle">19</text>
<text class="s" x="965" y="970" text-anchor="middle">20</text>
<text class="s" x="990" y="970" text-anchor="middle">21</text>
<text class="s" x="1015" y="970" text-anchor="middle">22</text>
<text class="s" x="1040" y="970" text-anchor="middle">23</text>
<text class="s" x="1065" y="970" text-anchor="middle">24</text>
<text class="s" x="1150" y="970" text-anchor="middle">25</text>
<text class="s" x="1175" y="970" text-anchor="middle">26</text>
<text class="s" x="1200" y="970" text-anchor="middle">27</text>
<text class="s" x="1225" y="970" text-anchor="middle">28</text>
<text class="s" x="1250" y="970" text-anchor="middle">29</text>
<text class="s" x="1275" y="970" text-anchor="middle">30</text>
<text class="s" x="1300" y="970" text-anchor="middle">31</text>
<text class="s" x="1325" y="970" text-anchor="middle">32</text>
<text class="s" x="490" y="1015" text-anchor="middle">1</text>
<text class="s" x="515" y="1015" text-anchor="middle">2</text>
<text class="s" x="540" y="1015" text-anchor="middle">3</text>
<text class="s" x="565" y="1015" text-anchor="middle">4</text>
<text class="s" x="590" y="1015" text-anchor="middle">5</text>
<text class="s" x="615" y="1015" text-anchor="middle">6</text>
<text class="s" x="640" y="1015" text-anchor="middle">7</text>
<text class="s" x="665" y="1015" text-anchor="middle">8</text>
<text class="s" x="690" y="1015" text-anchor="middle">9</text>
<text class="s" x="715" y="1015" text-anchor="middle">10</text>
<text class="s" x="740" y="1015" text-anchor="middle">11</text>
<text class="s" x="765" y="1015" text-anchor="middle">12</text>
<text class="s" x="790" y="1015" text-anchor="middle">13</text>
<text class="s" x="815" y="1015" text-anchor="middle">14</text>
<text class="s" x="840" y="1015" text-anchor="middle">15</text>
<text class="s" x="865" y="1015" text-anchor="middle">16</text>
<text class="s" x="890" y="1015" text-anchor="middle">17</text>
<text class="s" x="915" y="1015" text-anchor="middle">18</text>
<text class="s" x="940" y="1015" text-anchor="middle">19</text>
<text class="s" x="965" y="1015" text-anchor="middle">20</text>
<text class="s" x="990" y="1015" text-anchor="middle">21</text>
<text class="s" x="1015" y="1015" text-anchor="middle">22</text>
<text class="s" x="1040" y="1015" text-anchor="middle">23</text>
<text class="s" x="1065" y="1015" text-anchor="middle">24</text>
<text class="s" x="1150" y="1015" text-anchor="middle">25</text>
<text class="s" x="1175" y="1015" text-anchor="middle">26</text>
<text class="s" x="1200" y="1015" text-anchor="middle">27</text>
<text class="s" x="1225" y="1015" text-anchor="middle">28</text>
<text class="s" x="1250" y="1015" text-anchor="middle">29</text>
<text class="s" x="1275" y="1015" text-anchor="middle">30</text>
<text class="s" x="1300" y="1015" text-anchor="middle">31</text>
<text class="s" x="1325" y="1015" text-anchor="middle">32</text>
<text class="s" x="490" y="1060" text-anchor="middle">1</text>
<text class="s" x="515" y="1060" text-anchor="middle">2</text>
<text class="s" x="540" y="1060" text-anchor="middle">3</text>
<text class="s" x="565" y="1060" text-anchor="middle">4</text>
<text class="s" x="590" y="1060" text-anchor="middle">5</text>
<text class="s" x="615" y="1060" text-anchor="middle">6</text>
<text class="s" x="640" y="1060" text-anchor="middle">7</text>
<text class="s" x="665" y="1060" text-anchor="middle">8</text>
<text class="s" x="690" y="1060" text-anchor="middle">9</text>
<text class="s" x="715" y="1060" text-anchor="middle">10</text>
<text class="s" x="740" y="1060" text-anchor="middle">11</text>
<text class="s" x="765" y="1060" text-anchor="middle">12</text>
<text class="s" x="790" y="1060" text-anchor="middle">13</text>
<text class="s" x="815" y="1060" text-anchor="middle">14</text>
<text class="s" x="840" y="1060" text-anchor="middle">15</text>
<text class="s" x="865" y="1060" text-anchor="middle">16</text>
<text class="s" x="890" y="1060" text-anchor="middle">17</text>
<text class="s" x="915" y="1060" text-anchor="middle">18</text>
<text class="s" x="940" y="1060" text-anchor="middle">19</text>
<text class="s" x="965" y="1060" text-anchor="middle">20</text>
<text class="s" x="990" y="1060" text-anchor="middle">21</text>
<text class="s" x="1015" y="1060" text-anchor="middle">22</text>
<text class="s" x="1040" y="1060" text-anchor="middle">23</text>
<text class="s" x="1065" y="1060" text-anchor="middle">24</text>
<text class="s" x="1150" y="1060" text-anchor="middle">25</text>
<text class="s" x="1175" y="1060" text-anchor="middle">26</text>
<text class="s" x="1200" y="1060" text-anchor="middle">27</text>
<text class="s" x="1225" y="1060" text-anchor="middle">28</text>
<text class="s" x="1250" y="1060" text-anchor="middle">29</text>
<text class="s" x="1275" y="1060" text-anchor="middle">30</text>
<text class="s" x="1300" y="1060" text-anchor="middle">31</text>
<text class="s" x="1325" y="1060" text-anchor="middle">32</text>
<text class="s" x="490" y="1105" text-anchor="middle">1</text>
<text class="s" x="515" y="1105" text-anchor="middle">2</text>
<text class="s" x="540" y="1105" text-anchor="middle">3</text>
<text class="s" x="565" y="1105" text-anchor="middle">4</text>
<text class="s" x="590" y="1105" text-anchor="middle">5</text>
<text class="s" x="615" y="1105" text-anchor="middle">6</text>
<text class="s" x="640" y="1105" text-anchor="middle">7</text>
<text class="s" x="665" y="1105" text-anchor="middle">8</text>
<text class="s" x="690" y="1105" text-anchor="middle">9</text>
<text class="s" x="715" y="1105" text-anchor="middle">10</text>
<text class="s" x="740" y="1105" text-anchor="middle">11</text>
<text class="s" x="765" y="1105" text-anchor="middle">12</text>
<text class="s" x="790" y="1105" text-anchor="middle">13</text>
<text class="s" x="815" y="1105" text-anchor="middle">14</text>
<text class="s" x="840" y="1105" text-anchor="middle">15</text>
<text class="s" x="865" y="1105" text-anchor="middle">16</text>
<text class="s" x="890" y="1105" text-anchor="middle">17</text>
<text class="s" x="915" y="1105" text-anchor="middle">18</text>
<text class="s" x="940" y="1105" text-anchor="middle">19</text>
<text class="s" x="965" y="1105" text-anchor="middle">20</text>
<text class="s" x="990" y="1105" text-anchor="middle">21</text>
<text class="s" x="1015" y="1105" text-anchor="middle">22</text>
<text class="s" x="1040" y="1105" text-anchor="middle">23</text>
<text class="s" x="1065" y="1105" text-anchor="middle">24</text>
<text class="s" x="1150" y="1105" text-anchor="middle">25</text>
<text class="s" x="1175" y="1105" text-anchor="middle">26</text>
<text class="s" x="1200" y="1105" text-anchor="middle">27</text>
<text class="s" x="1225" y="1105" text-anchor="middle">28</text>
<text class="s" x="1250" y="1105" text-anchor="middle">29</text>
<text class="s" x="1275" y="1105" text-anchor="middle">30</text>
<text class="s" x="1300" y="1105" text-anchor="middle">31</text>
<text class="s" x="1325" y="1105" text-anchor="middle">32</text>
<text class="s" x="490" y="1150" text-anchor="middle">1</text>
<text class="s" x="515" y="1150" text-anchor="middle">2</text>
<text class="s" x="540" y="1150" text-anchor="middle">3</text>
<text class="s" x="565" y="1150" text-anchor="middle">4</text>
<text class="s" x="590" y="1150" text-anchor="middle">5</text>
<text class="s" x="615" y="1150" text-anchor="middle">6</text>
<text class="s" x="640" y="1150" text-anchor="middle">7</text>
<text class="s" x="665" y="1150" text-anchor="middle">8</text>
<text class="s" x="690" y="1150" text-anchor="middle">9</text>
<text class="s" x="715" y="1150" text-anchor="middle">10</text>
<text class="s" x="740" y="1150" text-anchor="middle">11</text>
<text class="s" x="765" y="1150" text-anchor="middle">12</text>
<text class="s" x="790" y="1150" text-anchor="middle">13</text>
<text class="s" x="815" y="1150" text-anchor="middle">14</text>
<text class="s" x="840" y="1150" text-anchor="middle">15</text>
<text class="s" x="865" y="1150" text-anchor="middle">16</text>
<text class="s" x="890" y="1150" text-anchor="middle">17</text>
<text class="s" x="915" y="1150" text-anchor="middle">18</text>
<text class="s" x="940" y="1150" text-anchor="middle">19</text>
<text class="s" x="965" y="1150" text-anchor="middle">20</text>
<text class="s" x="990" y="1150" text-anchor="middle">21</text>
<text class="s" x="1015" y="1150" text-anchor="middle">22</text>
<text class="s" x="1040" y="1150" text-anchor="middle">23</text>
<text class="s" x="1065" y="1150" text-anchor="middle">24</text>
<text class="s" x="1150" y="1150" text-anchor="middle">25</text>
<text class="s" x="1175" y="1150" text-anchor="middle">26</text>
<text class="s" x="1200" y="1150" text-anchor="middle">27</text>
<text class="s" x="1225" y="1150" text-anchor="middle">28</text>
<text class="s" x="1250" y="1150" text-anchor="middle">29</text>
<text class="s" x="1275" y="1150" text-anchor="middle">30</text>
<text class="s" x="1300" y="1150" text-anchor="middle">31</text>
<text class="s" x="1325" y="1150" text-anchor="middle">32</text>
<text class="s" x="490" y="1195" text-anchor="middle">1</text>
<text class="s" x="515" y="1195" text-anchor="middle">2</text>
<text class="s" x="540" y="1195" text-anchor="middle">3</text>
<text class="s" x="565" y="1195" text-anchor="middle">4</text>
<text class="s" x="590" y="1195" text-anchor="middle">5</text>
<text class="s" x="615" y="1195" text-anchor="middle">6</text>
<text class="s" x="640" y="1195" text-anchor="middle">7</text>
<text class="s" x="665" y="1195" text-anchor="middle">8</text>
<text class="s" x="690" y="1195" text-anchor="middle">9</text>
<text class="s" x="715" y="1195" text-anchor="middle">10</text>
<text class="s" x="740" y="1195" text-anchor="middle">11</text>
<text class="s" x="765" y="1195" text-anchor="middle">12</text>
<text class="s" x="790" y="1195" text-anchor="middle">13</text>
<text class="s" x="815" y="1195" text-anchor="middle">14</text>
<text class="s" x="840" y="1195" text-anchor="middle">15</text>
<text class="s" x="865" y="1195" text-anchor="middle">16</text>
<text class="s" x="890" y="1195" text-anchor="middle">17</text>
<text class="s" x="915" y="1195" text-anchor="middle">18</text>
<text class="s" x="940" y="1195" text-anchor="middle">19</text>
<text class="s" x="965" y="1195" text-anchor="middle">20</text>
<text class="s" x="990" y="1195" text-anchor="middle">21</text>
<text class="s" x="1015" y="1195" text-anchor="middle">22</text>
<text class="s" x="1040" y="1195" text-anchor="middle">23</text>
<text class="s" x="1065" y="1195" text-anchor="middle">24</text>
<text class="s" x="1150" y="1195" text-anchor="middle">25</text>
<text class="s" x="1175" y="1195" text-anchor="middle">26</text>
<text class="s" x="1200" y="1195" text-anchor="middle">27</text>
<text class="s" x="1225" y="1195" text-anchor="middle">28</text>
<text class="s" x="1250" y="1195" text-anchor="middle">29</text>
<text class="s" x="1275" y="1195" text-anchor="middle">30</text>
<text class="s" x="1300" y="1195" text-anchor="middle">31</text>
<text class="s" x="1325" y="1195" text-anchor="middle">32</text>
<text class="s" x="490" y="1240" text-anchor="middle">1</text>
<text class="s" x="515" y="1240" text-anchor="middle">2</text>
<text class="s" x="540" y="1240" text-anchor="middle">3</text>
<text class="s" x="565" y="1240" text-anchor="middle">4</text>
<text class="s" x="590" y="1240" text-anchor="middle">5</text>
<text class="s" x="615" y="1240" text-anchor="middle">6</text>
<text class="s" x="640" y="1240" text-anchor="middle">7</text>
<text class="s" x="665" y="1240" text-anchor="middle">8</text>
<text class="s" x="690" y="1240" text-anchor="middle">9</text>
<text class="s" x="715" y="1240" text-anchor="middle">10</text>
<text class="s" x="740" y="1240" text-anchor="middle">11</text>
<text class="s" x="765" y="1240" text-anchor="middle">12</text>
<text class="s" x="790" y="1240" text-anchor="middle">13</text>
<text class="s" x="815" y="1240" text-anchor="middle">14</text>
<text class="s" x="840" y="1240" text-anchor="middle">15</text>
<text class="s" x="865" y="1240" text-anchor="middle">16</text>
<text class="s" x="890" y="1240" text-anchor="middle">17</text>
<text class="s" x="915" y="1240" text-anchor="middle">18</text>
<text class="s" x="940" y="1240" text-anchor="middle">19</text>
<text class="s" x="965" y="1240" text-anchor="middle">20</text>
<text class="s" x="990" y="1240" text-anchor="middle">21</text>
<text class="s" x="1015" y="1240" text-anchor="middle">22</text>
<text class="s" x="1040" y="1240" text-anchor="middle">23</text>
<text class="s" x="1065" y="1240" text-anchor="middle">24</text>
<text class="s" x="1150" y="1240" text-anchor="middle">25</text>
<text class="s" x="1175" y="1240" text-anchor="middle">26</text>
<text class="s" x="1200" y="1240" text-anchor="middle">27</text>
<text class="s" x="1225" y="1240" text-anchor="middle">28</text>
<text class="s" x="1250" y="1240" text-anchor="middle">29</text>
<text class="s" x="1275" y="1240" text-anchor="middle">30</text>
<text class="s" x="1300" y="1240" text-anchor="middle">31</text>
<text class="s" x="1325" y="1240" text-anchor="middle">32</text>
<text class="s" x="490" y="1285" text-anchor="middle">1</text>
<text class="s" x="515" y="1285" text-anchor="middle">2</text>
<text class="s" x="540" y="1285" text-anchor="middle">3</text>
<text class="s" x="565" y="1285" text-anchor="middle">4</text>
<text class="s" x="590" y="1285" text-anchor="middle">5</text>
<text class="s" x="615" y="1285" text-anchor="middle">6</text>
<text class="s" x="640" y="1285" text-anchor="middle">7</text>
<text class="s" x="665" y="1285" text-anchor="middle">8</text>
<text class="s" x="690" y="1285" text-anchor="middle">9</text>
<text class="s" x="715" y="1285" text-anchor="middle">10</text>
<text class="s" x="740" y="1285" text-anchor="middle">11</text>
<text class="s" x="765" y="1285" text-anchor="middle">12</text>
<text class="s" x="790" y="1285" text-anchor="middle">13</text>
<text class="s" x="815" y="1285" text-anchor="middle">14</text>
<text class="s" x="840" y="1285" text-anchor="middle">15</text>
<text class="s" x="865" y="1285" text-anchor="middle">16</text>
<text class="s" x="890" y="1285" text-anchor="middle">17</text>
<text class="s" x="915" y="1285" text-anchor="middle">18</text>
<text class="s" x="940" y="1285" text-anchor="middle">19</text>
<text class="s" x="965" y="1285" text-anchor="middle">20</text>
<text class="s" x="990" y="1285" text-anchor="middle">21</text>
<text class="s" x="1015" y="1285" text-anchor="middle">22</text>
<text class="s" x="1040" y="1285" text-anchor="middle">23</text>
<text class="s" x="1065" y="1285" text-anchor="middle">24</text>
<text class="s" x="1150" y="1285" text-anchor="middle">25</text>
<text class="s" x="1175" y="1285" text-anchor="middle">26</text>
<text class="s" x="1200" y="1285" text-anchor="middle">27</text>
<text class="s" x="1225" y="1285" text-anchor="middle">28</text>
<text class="s" x="1250" y="1285" text-anchor="middle">29</text>
<text class="s" x="1275" y="1285" text-anchor="middle">30</text>
<text class="s" x="1300" y="1285" text-anchor="middle">31</text>
<text class="s" x="1325" y="1285" text-anchor="middle">32</text>
<text class="s" x="490" y="1330" text-anchor="middle">1</text>
<text class="s" x="515" y="1330" text-anchor="middle">2</text>
<text class="s" x="540" y="1330" text-anchor="middle">3</text>
<text class="s" x="565" y="1330" text-anchor="middle">4</text>
<text class="s" x="590" y="1330" text-anchor="middle">5</text>
<text class="s" x="615" y="1330" text-anchor="middle">6</text>
<text class="s" x="640" y="1330" text-anchor="middle">7</text>
<text class="s" x="665" y="1330" text-anchor="middle">8</text>
<text class="s" x="690" y="1330" text-anchor="middle">9</text>
<text class="s" x="715" y="1330" text-anchor="middle">10</text>
<text class="s" x="740" y="1330" text-anchor="middle">11</text>
<text class="s" x="765" y="1330" text-anchor="middle">12</text>
<text class="s" x="790" y="1330" text-anchor="middle">13</text>
<text class="s" x="815" y="1330" text-anchor="middle">14</text>
<text class="s" x="840" y="1330" text-anchor="middle">15</text>
<text class="s" x="865" y="1330" text-anchor="middle">16</text>
<text class="s" x="890" y="1330" text-anchor="middle">17</text>
<text class="s" x="915" y="1330" text-anchor="middle">18</text>
<text class="s" x="940" y="1330" text-anchor="middle">19</text>
<text class="s" x="965" y="1330" text-anchor="middle">20</text>
<text class="s" x="990" y="1330" text-anchor="middle">21</text>
<text class="s" x="1015" y="1330" text-anchor="middle">22</text>
<text class="s" x="1040" y="1330" text-anchor="middle">23</text>
<text class="s" x="1065" y="1330" text-anchor="middle">24</text>
<text class="s" x="1150" y="1330" text-anchor="middle">25</text>
<text class="s" x="1175" y="1330" text-anchor="middle">26</text>
<text class="s" x="1200" y="1330" text-anchor="middle">27</text>
<text class="s" x="1225" y="1330" text-anchor="middle">28</text>
<text class="s" x="1250" y="1330" text-anchor="middle">29</text>
<text class="s" x="1275" y="1330" text-anchor="middle">30</text>
<text class="s" x="1300" y="1330" text-anchor="middle">31</text>
<text class="s" x="1325" y="1330" text-anchor="middle">32</text>
<text class="s" x="490" y="1375" text-anchor="middle">1</text>
<text class="s" x="515" y="1375" text-anchor="middle">2</text>
<text class="s" x="540" y="1375" text-anchor="middle">3</text>
<text class="s" x="565" y="1375" text-anchor="middle">4</text>
<text class="s" x="590" y="1375" text-anchor="middle">5</text>
<text class="s" x="615" y="1375" text-anchor="middle">6</text>
<text class="s" x="640" y="1375" text-anchor="middle">7</text>
<text class="s" x="665" y="1375" text-anchor="middle">8</text>
<text class="s" x="690" y="1375" text-anchor="middle">9</text>
<text class="s" x="715" y="1375" text-anchor="middle">10</text>
<text class="s" x="740" y="1375" text-anchor="middle">11</text>
<text class="s" x="765" y="1375" text-anchor="middle">12</text>
<text class="s" x="790" y="1375" text-anchor="middle">13</text>
<text class="s" x="815" y="1375" text-anchor="middle">14</text>
<text class="s" x="840" y="1375" text-anchor="middle">15</text>
<text class="s" x="865" y="1375" text-anchor="middle">16</text>
<text class="s" x="890" y="1375" text-anchor="middle">17</text>
<text class="s" x="915" y="1375" text-anchor="middle">18</text>
<text class="s" x="940" y="1375" text-anchor="middle">19</text>
<text class="s" x="965" y="1375" text-anchor="middle">20</text>
<text class="s" x="990" y="1375" text-anchor="middle">21</text>
<text class="s" x="1015" y="1375" text-anchor="middle">22</text>
<text class="s" x="1040" y="1375" text-anchor="middle">23</text>
<text class="s" x="1065" y="1375" text-anchor="middle">24</text>
<text class="s" x="1150" y="1375" text-anchor="middle">25</text>
<text class="s" x="1175" y="1375" text-anchor="middle">26</text>
<text class="s" x="1200" y="1375" text-anchor="middle">27</text>
<text class="s" x="1225" y="1375" text-anchor="middle">28</text>
<text class="s" x="1250" y="1375" text-anchor="middle">29</text>
<text class="s" x="1275" y="1375" text-anchor="middle">30</text>
<text class="s" x="1300" y="1375" text-anchor="middle">31</text>
<text class="s" x="1325" y="1375" text-anchor="middle">32</text>
<text class="s" x="490" y="1420" text-anchor="middle">1</text>
<text class="s" x="515" y="1420" text-anchor="middle">2</text>
<text class="s" x="540" y="1420" text-anchor="middle">3</text>
<text class="s" x="565" y="1420" text-anchor="middle">4</text>
<text class="s" x="590" y="1420" text-anchor="middle">5</text>
<text class="s" x="615" y="1420" text-anchor="middle">6</text>
<text class="s" x="640" y="1420" text-anchor="middle">7</text>
<text class="s" x="665" y="1420" text-anchor="middle">8</text>
<text class="s" x="690" y="1420" text-anchor="middle">9</text>
<text class="s" x="715" y="1420" text-anchor="middle">10</text>
<text class="s" x="740" y="1420" text-anchor="middle">11</text>
<text class="s" x="765" y="1420" text-anchor="middle">12</text>
<text class="s" x="790" y="1420" text-anchor="middle">13</text>
<text class="s" x="815" y="1420" text-anchor="middle">14</text>
<text class="s" x="840" y="1420" text-anchor="middle">15</text>
<text class="s" x="865" y="1420" text-anchor="middle">16</text>
<text class="s" x="890" y="1420" text-anchor="middle">17</text>
<text class="s" x="915" y="1420" text-anchor="middle">18</text>
<text class="s" x="940" y="1420" text-anchor="middle">19</text>
<text class="s" x="965" y="1420" text-anchor="middle">20</text>
<text class="s" x="990" y="1420" text-anchor="middle">21</text>
<text class="s" x="1015" y="1420" text-anchor="middle">22</text>
<text class="s" x="1040" y="1420" text-anchor="middle">23</text>
<text class="s" x="1065" y="1420" text-anchor="middle">24</text>
<text class="s" x="1150" y="1420" text-anchor="middle">25</text>
<text class="s" x="1175" y="1420" text-anchor="middle">26</text>
<text class="s" x="1200" y="1420" text-anchor="middle">27</text>
<text class="s" x="1225" y="1420" text-anchor="middle">28</text>
<text class="s" x="1250" y="1420" text-anchor="middle">29</text>
<text class="s" x="1275" y="1420" text-anchor="middle">30</text>
<text class="s" x="1300" y="1420" text-anchor="middle">31</text>
<text class="s" x="1325" y="1420" text-anchor="middle">32</text>
<text class="s" x="490" y="1465" text-anchor="middle">1</text>
<text class="s" x="515" y="1465" text-anchor="middle">2</text>
<text class="s" x="540" y="1465" text-anchor="middle">3</text>
<text class="s" x="565" y="1465" text-anchor="middle">4</text>
<text class="s" x="590" y="1465" text-anchor="middle">5</text>
<text class="s" x="615" y="1465" text-anchor="middle">6</text>
<text class="s" x="640" y="1465" text-anchor="middle">7</text>
<text class="s" x="665" y="1465" text-anchor="middle">8</text>
<text class="s" x="690" y="1465" text-anchor="middle">9</text>
<text class="s" x="715" y="1465" text-anchor="middle">10</text>
<text class="s" x="740" y="1465" text-anchor="middle">11</text>
<text class="s" x="765" y="1465" text-anchor="middle">12</text>
<text class="s" x="790" y="1465" text-anchor="middle">13</text>
<text class="s" x="815" y="1465" text-anchor="middle">14</text>
<text class="s" x="840" y="1465" text-anchor="middle">15</text>
<text class="s" x="865" y="1465" text-anchor="middle">16</text>
<text class="s" x="890" y="1465" text-anchor="middle">17</text>
<text class="s" x="915" y="1465" text-anchor="middle">18</text>
<text class="s" x="940" y="1465" text-anchor="middle">19</text>
<text class="s" x="965" y="1465" text-anchor="middle">20</text>
<text class="s" x="990" y="1465" text-anchor="middle">21</text>
<text class="s" x="1015" y="1465" text-anchor="middle">22</text>
<text class="s" x="1040" y="1465" text-anchor="middle">23</text>
<text class="s" x="1065" y="1465" text-anchor="middle">24</text>
<text class="s" x="1150" y="1465" text-anchor="middle">25</text>
<text class="s" x="1175" y="1465" text-anchor="middle">26</text>
<text class="s" x="1200" y="1465" text-anchor="middle">27</text>
<text class="s" x="1225" y="1465" text-anchor="middle">28</text>
<text class="s" x="1250" y="1465" text-anchor="middle">29</text>
<text class="s" x="1275" y="1465" text-anchor="middle">30</text>
<text class="s" x="1300" y="1465" text-anchor="middle">31</text>
<text class="s" x="1325" y="1465" text-anchor="middle">32</text>
<text class="s" x="490" y="1510" text-anchor="middle">1</text>
<text class="s" x="515" y="1510" text-anchor="middle">2</text>
<text class="s" x="540" y="1510" text-anchor="middle">3</text>
<text class="s" x="565" y="1510" text-anchor="middle">4</text>
<text class="s" x="590" y="1510" text-anchor="middle">5</text>
<text class="s" x="615" y="1510" text-anchor="middle">6</text>
<text class="s" x="640" y="1510" text-anchor="middle">7</text>
<text class="s" x="665" y="1510" text-anchor="middle">8</text>
<text class="s" x="690" y="1510" text-anchor="middle">9</text>
<text class="s" x="715" y="1510" text-anchor="middle">10</text>
<text class="s" x="740" y="1510" text-anchor="middle">11</text>
<text class="s" x="765" y="1510" text-anchor="middle">12</text>
<text class="s" x="790" y="1510" text-anchor="middle">13</text>
<text class="s" x="815" y="1510" text-anchor="middle">14</text>
<text class="s" x="840" y="1510" text-anchor="middle">15</text>
<text class="s" x="865" y="1510" text-anchor="middle">16</text>
<text class="s" x="890" y="1510" text-anchor="middle">17</text>
<text class="s" x="915" y="1510" text-anchor="middle">18</text>
<text class="s" x="940" y="1510" text-anchor="middle">19</text>
<text class="s" x="965" y="1510" text-anchor="middle">20</text>
<text class="s" x="990" y="1510" text-anchor="middle">21</text>
<text class="s" x="1015" y="1510" text-anchor="middle">22</text>
<text class="s" x="1040" y="1510" text-anchor="middle">23</text>
<text class="s" x="1065" y="1510" text-anchor="middle">24</text>
<text class="s" x="1150" y="1510" text-anchor="middle">25</text>
<text class="s" x="1175" y="1510" text-anchor="middle">26</text>
<text class="s" x="1200" y="1510" text-anchor="middle">27</text>
<text class="s" x="1225" y="1510" text-anchor="middle">28</text>
<text class="s" x="1250" y="1510" text-anchor="middle">29</text>
<text class="s" x="1275" y="1510" text-anchor="middle">30</text>
<text class="s" x="1300" y="1510" text-anchor="middle">31</text>
<text class="s" x="1325" y="1510" text-anchor="middle">32</text>
<text class="s" x="490" y="1555" text-anchor="middle">1</text>
<text class="s" x="515" y="1555" text-anchor="middle">2</text>
<text class="s" x="540" y="1555" text-anchor="middle">3</text>
<text class="s" x="565" y="1555" text-anchor="middle">4</text>
<text class="s" x="590" y="1555" text-anchor="middle">5</text>
<text class="s" x="615" y="1555" text-anchor="middle">6</text>
<text class="s" x="640" y="1555" text-anchor="middle">7</text>
<text class="s" x="665" y="1555" text-anchor="middle">8</text>
<text class="s" x="690" y="1555" text-anchor="middle">9</text>
<text class="s" x="715" y="1555" text-anchor="middle">10</text>
<text class="s" x="740" y="1555" text-anchor="middle">11</text>
<text class="s" x="765" y="1555" text-anchor="middle">12</text>
<text class="s" x="790" y="1555" text-anchor="middle">13</text>
<text class="s" x="815" y="1555" text-anchor="middle">14</text>
<text class="s" x="840" y="1555" text-anchor="middle">15</text>
<text class="s" x="865" y="1555" text-anchor="middle">16</text>
<text class="s" x="890" y="1555" text-anchor="middle">17</text>
<text class="s" x="915" y="1555" text-anchor="middle">18</text>
<text class="s" x="940" y="1555" text-anchor="middle">19</text>
<text class="s" x="965" y="1555" text-anchor="middle">20</text>
<text class="s" x="990" y="1555" text-anchor="middle">21</text>
<text class="s" x="1015" y="1555" text-anchor="middle">22</text>
<text class="s" x="1040" y="1555" text-anchor="middle">23</text>
<text class="s" x="1065" y="1555" text-anchor="middle">24</text>
<text class="s" x="1150" y="1555" text-anchor="middle">25</text>
<text class="s" x="1175" y="1555" text-anchor="middle">26</text>
<text class="s" x="1200" y="1555" text-anchor="middle">27</text>
<text class="s" x="1225" y="1555" text-anchor="middle">28</text>
<text class="s" x="1250" y="1555" text-anchor="middle">29</text>
<text class="s" x="1275" y="1555" text-anchor="middle">30</text>
<text class="s" x="1300" y="1555" text-anchor="middle">31</text>
<text class="s" x="1325" y="1555" text-anchor="middle">32</text>
<text class="s" x="490" y="1600" text-anchor="middle">1</text>
<text class="s" x="515" y="1600" text-anchor="middle">2</text>
<text class="s" x="540" y="1600" text-anchor="middle">3</text>
<text class="s" x="565" y="1600" text-anchor="middle">4</text>
<text class="s" x="590" y="1600" text-anchor="middle">5</text>
<text class="s" x="615" y="1600" text-anchor="middle">6</text>
<text class="s" x="640" y="1600" text-anchor="middle">7</text>
<text class="s" x="665" y="1600" text-anchor="middle">8</text>
<text class="s" x="690" y="1600" text-anchor="middle">9</text>
<text class="s" x="715" y="1600" text-anchor="middle">10</text>
<text class="s" x="740" y="1600" text-anchor="middle">11</text>
<text class="s" x="765" y="1600" text-anchor="middle">12</text>
<text class="s" x="790" y="1600" text-anchor="middle">13</text>
<text class="s" x="815" y="1600" text-anchor="middle">14</text>
<text class="s" x="840" y="1600" text-anchor="middle">15</text>
<text class="s" x="865" y="1600" text-anchor="middle">16</text>
<text class="s" x="890" y="1600" text-anchor="middle">17</text>
<text class="s" x="915" y="1600" text-anchor="middle">18</text>
<text class="s" x="940" y="1600" text-anchor="middle">19</text>
<text class="s" x="965" y="1600" text-anchor="middle">20</text>
<text class="s" x="990" y="1600" text-anchor="middle">21</text>
<text class="s" x="1015" y="1600" text-anchor="middle">22</text>
<text class="s" x="1040" y="1600" text-anchor="middle">23</text>
<text class="s" x="1065" y="1600" text-anchor="middle">24</text>
<text class="s" x="1150" y="1600" text-anchor="middle">25</text>
<text class="s" x="1175" y="1600" text-anchor="middle">26</text>
<text class="s" x="1200" y="1600" text-anchor="middle">27</text>
<text class="s" x="1225" y="1600" text-anchor="middle">28</text>
<text class="s" x="1250" y="1600" text-anchor="middle">29</text>
<text class="s" x="1275" y="1600" text-anchor="middle">30</text>
<text class="s" x="1300" y="1600" text-anchor="middle">31</text>
<text class="s" x="1325" y="1600" text-anchor="middle">32</text>
<text class="s" x="490" y="1645" text-anchor="middle">1</text>
<text class="s" x="515" y="1645" text-anchor="middle">2</text>
<text class="s" x="540" y="1645" text-anchor="middle">3</text>
<text class="s" x="565" y="1645" text-anchor="middle">4</text>
<text class="s" x="590" y="1645" text-anchor="middle">5</text>
<text class="s" x="615" y="1645" text-anchor="middle">6</text>
<text class="s" x="640" y="1645" text-anchor="middle">7</text>
<text class="s" x="665" y="1645" text-anchor="middle">8</text>
<text class="s" x="690" y="1645" text-anchor="middle">9</text>
<text class="s" x="715" y="1645" text-anchor="middle">10</text>
<text class="s" x="740" y="1645" text-anchor="middle">11</text>
<text class="s" x="765" y="1645" text-anchor="middle">12</text>
<text class="s" x="790" y="1645" text-anchor="middle">13</text>
<text class="s" x="815" y="1645" text-anchor="middle">14</text>
<text class="s" x="840" y="1645" text-anchor="middle">15</text>
<text class="s" x="865" y="1645" text-anchor="middle">16</text>
<text class="s" x="890" y="1645" text-anchor="middle">17</text>
<text class="s" x="915" y="1645" text-anchor="middle">18</text>
<text class="s" x="940" y="1645" text-anchor="middle">19</text>
<text class="s" x="965" y="1645" text-anchor="middle">20</text>
<text class="s" x="990" y="1645" text-anchor="middle">21</text>
<text class="s" x="1015" y="1645" text-anchor="middle">22</text>
<text class="s" x="1040" y="1645" text-anchor="middle">23</text>
<text class="s" x="1065" y="1645" text-anchor="middle">24</text>
<text class="s" x="1150" y="1645" text-anchor="middle">25</text>
<text class="s" x="1175" y="1645" text-anchor="middle">26</text>
<text class="s" x="1200" y="1645" text-anchor="middle">27</text>
<text class="s" x="1225" y="1645" text-anchor="middle">28</text>
<text class="s" x="1250" y="1645" text-anchor="middle">29</text>
<text class="s" x="1275" y="1645" text-anchor="middle">30</text>
<text class="s" x="1300" y="1645" text-anchor="middle">31</text>
<text class="s" x="1325" y="1645" text-anchor="middle">32</text>
<text class="s" x="490" y="1690" text-anchor="middle">1</text>
<text class="s" x="515" y="1690" text-anchor="middle">2</text>
<text class="s" x="540" y="1690" text-anchor="middle">3</text>
<text class="s" x="565" y="1690" text-anchor="middle">4</text>
<text class="s" x="590" y="1690" text-anchor="middle">5</text>
<text class="s" x="615" y="1690" text-anchor="middle">6</text>
<text class="s" x="640" y="1690" text-anchor="middle">7</text>
<text class="s" x="665" y="1690" text-anchor="middle">8</text>
<text class="s" x="690" y="1690" text-anchor="middle">9</text>
<text class="s" x="715" y="1690" text-anchor="middle">10</text>
<text class="s" x="740" y="1690" text-anchor="middle">11</text>
<text class="s" x="765" y="1690" text-anchor="middle">12</text>
<text class="s" x="790" y="1690" text-anchor="middle">13</text>
<text class="s" x="815" y="1690" text-anchor="middle">14</text>
<text class="s" x="840" y="1690" text-anchor="middle">15</text>
<text class="s" x="865" y="1690" text-anchor="middle">16</text>
<text class="s" x="890" y="1690" text-anchor="middle">17</text>
<text class="s" x="915" y="1690" text-anchor="middle">18</text>
<text class="s" x="940" y="1690" text-anchor="middle">19</text>
<text class="s" x="965" y="1690" text-anchor="middle">20</text>
<text class="s" x="990" y="1690" text-anchor="middle">21</text>
<text class="s" x="1015" y="1690" text-anchor="middle">22</text>
<text class="s" x="1040" y="1690" text-anchor="middle">23</text>
<text class="s" x="1065" y="1690" text-anchor="middle">24</text>
<text class="s" x="1150" y="1690" text-anchor="middle">25</text>
<text class="s" x="1175" y="1690" text-anchor="middle">26</text>
<text class="s" x="1200" y="1690" text-anchor="middle">27</text>
<text class="s" x="1225" y="1690" text-anchor="middle">28</text>
<text class="s" x="1250" y="1690" text-anchor="middle">29</text>
<text class="s" x="1275" y="1690" text-anchor="middle">30</text>
<text class="s" x="1300" y="1690" text-anchor="middle">31</text>
<text class="s" x="1325" y="1690" text-anchor="middle">32</text>
<text class="s" x="490" y="1735" text-anchor="middle">1</text>
<text class="s" x="515" y="1735" text-anchor="middle">2</text>
<text class="s" x="540" y="1735" text-anchor="middle">3</text>
<text class="s" x="565" y="1735" text-anchor="middle">4</text>
<text class="s" x="590" y="1735" text-anchor="middle">5</text>
<text class="s" x="615" y="1735" text-anchor="middle">6</text>
<text class="s" x="640" y="1735" text-anchor="middle">7</text>
<text class="s" x="665" y="1735" text-anchor="middle">8</text>
<text class="s" x="690" y="1735" text-anchor="middle">9</text>
<text class="s" x="715" y="1735" text-anchor="middle">10</text>
<text class="s" x="740" y="1735" text-anchor="middle">11</text>
<text class="s" x="765" y="1735" text-anchor="middle">12</text>
<text class="s" x="790" y="1735" text-anchor="middle">13</text>
<text class="s" x="815" y="1735" text-anchor="middle">14</text>
<text class="s" x="840" y="1735" text-anchor="middle">15</text>
<text class="s" x="865" y="1735" text-anchor="middle">16</text>
<text class="s" x="890" y="1735" text-anchor="middle">17</text>
<text class="s" x="915" y="1735" text-anchor="middle">18</text>
<text class="s" x="940" y="1735" text-anchor="middle">19</text>
<text class="s" x="965" y="1735" text-anchor="middle">20</text>
<text class="s" x="990" y="1735" text-anchor="middle">21</text>
<text class="s" x="1015" y="1735" text-anchor="middle">22</text>
<text class="s" x="1040" y="1735" text-anchor="middle">23</text>
<text class="s" x="1065" y="1735" text-anchor="middle">24</text>
<text class="s" x="1150" y="1735" text-anchor="middle">25</text>
<text class="s" x="1175" y="1735" text-anchor="middle">26</text>
<text class="s" x="1200" y="1735" text-anchor="middle">27</text>
<text class="s" x="1225" y="1735" text-anchor="middle">28</text>
<text class="s" x="1250" y="1735" text-anchor="middle">29</text>
<text class="s" x="1275" y="1735" text-anchor="middle">30</text>
<text class="s" x="1300" y="1735" text-anchor="middle">31</text>
<text class="s" x="1325" y="1735" text-anchor="middle">32</text>
<text class="s" x="490" y="1780" text-anchor="middle">1</text>
<text class="s" x="515" y="1780" text-anchor="middle">2</text>
<text class="s" x="540" y="1780" text-anchor="middle">3</text>
<text class="s" x="565" y="1780" text-anchor="middle">4</text>
<text class="s" x="590" y="1780" text-anchor="middle">5</text>
<text class="s" x="615" y="1780" text-anchor="middle">6</text>
<text class="s" x="640" y="1780" text-anchor="middle">7</text>
<text class="s" x="665" y="1780" text-anchor="middle">8</text>
<text class="s" x="690" y="1780" text-anchor="middle">9</text>
<text class="s" x="715" y="1780" text-anchor="middle">10</text>
<text class="s" x="740" y="1780" text-anchor="middle">11</text>
<text class="s" x="765" y="1780" text-anchor="middle">12</text>
<text class="s" x="790" y="1780" text-anchor="middle">13</text>
<text class="s" x="815" y="1780" text-anchor="middle">14</text>
<text class="s" x="840" y="1780" text-anchor="middle">15</text>
<text class="s" x="865" y="1780" text-anchor="middle">16</text>
<text class="s" x="1150" y="1780" text-anchor="middle">25</text>
<text class="s" x="1175" y="1780" text-anchor="middle">26</text>
<text class="s" x="1200" y="1780" text-anchor="middle">27</text>
<text class="s" x="1225" y="1780" text-anchor="middle">28</text>
<text class="s" x="1250" y="1780" text-anchor="middle">29</text>
<text class="s" x="1275" y="1780" text-anchor="middle">30</text>
<text class="s" x="1300" y="1780" text-anchor="middle">31</text>
<text class="s" x="1325" y="1780" text-anchor="middle">32</text>
<text class="s" x="1416" y="392" text-anchor="middle">1</text>
<text class="s" x="1441" y="392" text-anchor="middle">2</text>
<text class="s" x="1466" y="392" text-anchor="middle">3</text>
<text class="s" x="1491" y="392" text-anchor="middle">4</text>
<text class="s" x="1516" y="392" text-anchor="middle">5</text>
<text class="s" x="1541" y="392" text-anchor="middle">6</text>
<text class="s" x="1566" y="392" text-anchor="middle">7</text>
<text class="s" x="1591" y="392" text-anchor="middle">8</text>
<text class="s" x="1616" y="392" text-anchor="middle">9</text>
<text class="s" x="1640.75" y="392" text-anchor="middle">10</text>
<text class="s" x="1416" y="417" text-anchor="middle">1</text>
<text class="s" x="1441" y="417" text-anchor="middle">2</text>
<text class="s" x="1466" y="417" text-anchor="middle">3</text>
<text class="s" x="1491" y="417" text-anchor="middle">4</text>
<text class="s" x="1516" y="417" text-anchor="middle">5</text>
<text class="s" x="1541" y="417" text-anchor="middle">6</text>
<text class="s" x="1566" y="417" text-anchor="middle">7</text>
<text class="s" x="1591" y="417" text-anchor="middle">8</text>
<text class="s" x="1616" y="417" text-anchor="middle">9</text>
<text class="s" x="1640.75" y="417" text-anchor="middle">10</text>
<text class="s" x="1416" y="442" text-anchor="middle">1</text>
<text class="s" x="1441" y="442" text-anchor="middle">2</text>
<text class="s" x="1466" y="442" text-anchor="middle">3</text>
<text class="s" x="1491" y="442" text-anchor="middle">4</text>
<text class="s" x="1516" y="442" text-anchor="middle">5</text>
<text class="s" x="1541" y="442" text-anchor="middle">6</text>
<text class="s" x="1566" y="442" text-anchor="middle">7</text>
<text class="s" x="1591" y="442" text-anchor="middle">8</text>
<text class="s" x="1616" y="442" text-anchor="middle">9</text>
<text class="s" x="1640.75" y="442" text-anchor="middle">10</text>
<text class="s" x="1416" y="467" text-anchor="middle">1</text>
<text class="s" x="1441" y="467" text-anchor="middle">2</text>
<text class="s" x="1466" y="467" text-anchor="middle">3</text>
<text class="s" x="1491" y="467" text-anchor="middle">4</text>
<text class="s" x="1516" y="467" text-anchor="middle">5</text>
<text class="s" x="1541" y="467" text-anchor="middle">6</text>
<text class="s" x="1566" y="467" text-anchor="middle">7</text>
<text class="s" x="1591" y="467" text-anchor="middle">8</text>
<text class="s" x="1616" y="467" text-anchor="middle">9</text>
<text class="s" x="1640.75" y="467" text-anchor="middle">10</text>
<text class="s" x="1416" y="492" text-anchor="middle">1</text>
<text class="s" x="1441" y="492" text-anchor="middle">2</text>
<text class="s" x="1466" y="492" text-anchor="middle">3</text>
<text class="s" x="1491" y="492" text-anchor="middle">4</text>
<text class="s" x="1516" y="492" text-anchor="middle">5</text>
<text class="s" x="1541" y="492" text-anchor="middle">6</text>
<text class="s" x="1566" y="492" text-anchor="middle">7</text>
<text class="s" x="1591" y="492" text-anchor="middle">8</text>
<text class="s" x="1616" y="492" text-anchor="middle">9</text>
<text class="s" x="1640.75" y="492" text-anchor="middle">10</text>
<text class="s" x="1416" y="517" text-anchor="middle">1</text>
<text class="s" x="1441" y="517" text-anchor="middle">2</text>
<text class="s" x="1466" y="517" text-anchor="middle">3</text>
<text class="s" x="1491" y="517" text-anchor="middle">4</text>
<text class="s" x="1516" y="517" text-anchor="middle">5</text>
<text class="s" x="1541" y="517" text-anchor="middle">6</text>
<text class="s" x="1566" y="517" text-anchor="middle">7</text>
<text class="s" x="1591" y="517" text-anchor="middle">8</text>
<text class="s" x="1616" y="517" text-anchor="middle">9</text>
<text class="s" x="1640.75" y="517" text-anchor="middle">10</text>
<text class="s" x="1416" y="542" text-anchor="middle">1</text>
<text class="s" x="1441" y="542" text-anchor="middle">2</text>
<text class="s" x="1466" y="542" text-anchor="middle">3</text>
<text class="s" x="1491" y="542" text-anchor="middle">4</text>
<text class="s" x="1516" y="542" text-anchor="middle">5</text>
<text class="s" x="1541" y="542" text-anchor="middle">6</text>
<text class="s" x="1566" y="542" text-anchor="middle">7</text>
<text class="s" x="1591" y="542" text-anchor="middle">8</text>
<text class="s" x="1616" y="542" text-anchor="middle">9</text>
<text class="s" x="1640.75" y="542" text-anchor="middle">10</text>
<text class="s" x="1416" y="567" text-anchor="middle">1</text>
<text class="s" x="1441" y="567" text-anchor="middle">2</text>
<text class="s" x="1466" y="567" text-anchor="middle">3</text>
<text class="s" x="1491" y="567" text-anchor="middle">4</text>
<text class="s" x="1516" y="567" text-anchor="middle">5</text>
<text class="s" x="1541" y="567" text-anchor="middle">6</text>
<text class="s" x="1566" y="567" text-anchor="middle">7</text>
<text class="s" x="1591" y="567" text-anchor="middle">8</text>
<text class="s" x="1616" y="567" text-anchor="middle">9</text>
<text class="s" x="1640.75" y="567" text-anchor="middle">10</text>
<text class="s" x="1416" y="592" text-anchor="middle">1</text>
<text class="s" x="1441" y="592" text-anchor="middle">2</text>
<text class="s" x="1466" y="592" text-anchor="middle">3</text>
<text class="s" x="1491" y="592" text-anchor="middle">4</text>
<text class="s" x="1516" y="592" text-anchor="middle">5</text>
<text class="s" x="1541" y="592" text-anchor="middle">6</text>
<text class="s" x="1566" y="592" text-anchor="middle">7</text>
<text class="s" x="1591" y="592" text-anchor="middle">8</text>
<text class="s" x="1616" y="592" text-anchor="middle">9</text>
<text class="s" x="1640.75" y="592" text-anchor="middle">10</text>
<text class="s" x="1416" y="617" text-anchor="middle">1</text>
<text class="s" x="1441" y="617" text-anchor="middle">2</text>
<text class="s" x="1466" y="617" text-anchor="middle">3</text>
<text class="s" x="1491" y="617" text-anchor="middle">4</text>
<text class="s" x="1516" y="617" text-anchor="middle">5</text>
<text class="s" x="1541" y="617" text-anchor="middle">6</text>
<text class="s" x="1566" y="617" text-anchor="middle">7</text>
<text class="s" x="1591" y="617" text-anchor="middle">8</text>
<text class="s" x="1616" y="617" text-anchor="middle">9</text>
<text class="s" x="1640.75" y="617" text-anchor="middle">10</text>
<text class="s" x="1416" y="642" text-anchor="middle">1</text>
<text class="s" x="1441" y="642" text-anchor="middle">2</text>
<text class="s" x="1466" y="642" text-anchor="middle">3</text>
<text class="s" x="1491" y="642" text-anchor="middle">4</text>
<text class="s" x="1516" y="642" text-anchor="middle">5</text>
<text class="s" x="1541" y="642" text-anchor="middle">6</text>
<text class="s" x="1566" y="642" text-anchor="middle">7</text>
<text class="s" x="1591" y="642" text-anchor="middle">8</text>
<text class="s" x="1616" y="642" text-anchor="middle">9</text>
<text class="s" x="1640.75" y="642" text-anchor="middle">10</text>
<text class="s" x="1416" y="667" text-anchor="middle">1</text>
<text class="s" x="1441" y="667" text-anchor="middle">2</text>
<text class="s" x="1466" y="667" text-anchor="middle">3</text>
<text class="s" x="1491" y="667" text-anchor="middle">4</text>
<text class="s" x="1516" y="667" text-anchor="middle">5</text>
<text class="s" x="1541" y="667" text-anchor="middle">6</text>
<text class="s" x="1566" y="667" text-anchor="middle">7</text>
<text class="s" x="1591" y="667" text-anchor="middle">8</text>
<text class="s" x="1616" y="667" text-anchor="middle">9</text>
<text class="s" x="1640.75" y="667" text-anchor="middle">10</text>
<text class="s" x="1416" y="722" text-anchor="middle">1</text>
<text class="s" x="1441" y="722" text-anchor="middle">2</text>
<text class="s" x="1466" y="722" text-anchor="middle">3</text>
<text class="s" x="1491" y="722" text-anchor="middle">4</text>
<text class="s" x="1516" y="722" text-anchor="middle">5</text>
<text class="s" x="1541" y="722" text-anchor="middle">6</text>
<text class="s" x="1566" y="722" text-anchor="middle">7</text>
<text class="s" x="1591" y="722" text-anchor="middle">8</text>
<text class="s" x="1616" y="722" text-anchor="middle">9</text>
<text class="s" x="1640.75" y="722" text-anchor="middle">10</text>
<text class="s" x="1416" y="747" text-anchor="middle">1</text>
<text class="s" x="1441" y="747" text-anchor="middle">2</text>
<text class="s" x="1466" y="747" text-anchor="middle">3</text>
<text class="s" x="1491" y="747" text-anchor="middle">4</text>
<text class="s" x="1516" y="747" text-anchor="middle">5</text>
<text class="s" x="1541" y="747" text-anchor="middle">6</text>
<text class="s" x="1566" y="747" text-anchor="middle">7</text>
<text class="s" x="1591" y="747" text-anchor="middle">8</text>
<text class="s" x="1616" y="747" text-anchor="middle">9</text>
<text class="s" x="1640.75" y="747" text-anchor="middle">10</text>
<text class="s" x="1416" y="772" text-anchor="middle">1</text>
<text class="s" x="1441" y="772" text-anchor="middle">2</text>
<text class="s" x="1466" y="772" text-anchor="middle">3</text>
<text class="s" x="1491" y="772" text-anchor="middle">4</text>
<text class="s" x="1516" y="772" text-anchor="middle">5</text>
<text class="s" x="1541" y="772" text-anchor="middle">6</text>
<text class="s" x="1566" y="772" text-anchor="middle">7</text>
<text class="s" x="1591" y="772" text-anchor="middle">8</text>
<text class="s" x="1616" y="772" text-anchor="middle">9</text>
<text class="s" x="1640.75" y="772" text-anchor="middle">10</text>
<text class="s" x="1416" y="797" text-anchor="middle">1</text>
<text class="s" x="1441" y="797" text-anchor="middle">2</text>
<text class="s" x="1466" y="797" text-anchor="middle">3</text>
<text class="s" x="1491" y="797" text-anchor="middle">4</text>
<text class="s" x="1516" y="797" text-anchor="middle">5</text>
<text class="s" x="1541" y="797" text-anchor="middle">6</text>
<text class="s" x="1566" y="797" text-anchor="middle">7</text>
<text class="s" x="1591" y="797" text-anchor="middle">8</text>
<text class="s" x="1616" y="797" text-anchor="middle">9</text>
<text class="s" x="1640.75" y="797" text-anchor="middle">10</text>
<text class="s" x="1416" y="822" text-anchor="middle">1</text>
<text class="s" x="1441" y="822" text-anchor="middle">2</text>
<text class="s" x="1466" y="822" text-anchor="middle">3</text>
<text class="s" x="1491" y="822" text-anchor="middle">4</text>
<text class="s" x="1516" y="822" text-anchor="middle">5</text>
<text class="s" x="1541" y="822" text-anchor="middle">6</text>
<text class="s" x="1566" y="822" text-anchor="middle">7</text>
<text class="s" x="1591" y="822" text-anchor="middle">8</text>
<text class="s" x="1616" y="822" text-anchor="middle">9</text>
<text class="s" x="1640.75" y="822" text-anchor="middle">10</text>
<text class="s" x="1416" y="847" text-anchor="middle">1</text>
<text class="s" x="1441" y="847" text-anchor="middle">2</text>
<text class="s" x="1466" y="847" text-anchor="middle">3</text>
<text class="s" x="1491" y="847" text-anchor="middle">4</text>
<text class="s" x="1516" y="847" text-anchor="middle">5</text>
<text class="s" x="1541" y="847" text-anchor="middle">6</text>
<text class="s" x="1566" y="847" text-anchor="middle">7</text>
<text class="s" x="1591" y="847" text-anchor="middle">8</text>
<text class="s" x="1616" y="847" text-anchor="middle">9</text>
<text class="s" x="1640.75" y="847" text-anchor="middle">10</text>
<text class="s" x="1417" y="925" text-anchor="middle">1</text>
<text class="s" x="1442" y="925" text-anchor="middle">2</text>
<text class="s" x="1467" y="925" text-anchor="middle">3</text>
<text class="s" x="1492" y="925" text-anchor="middle">4</text>
<text class="s" x="1517" y="925" text-anchor="middle">5</text>
<text class="s" x="1542" y="925" text-anchor="middle">6</text>
<text class="s" x="1567" y="925" text-anchor="middle">7</text>
<text class="s" x="1592" y="925" text-anchor="middle">8</text>
<text class="s" x="1617" y="925" text-anchor="middle">9</text>
<text class="s" x="1641.75" y="925" text-anchor="middle">10</text>
<text class="s" x="1417" y="950" text-anchor="middle">1</text>
<text class="s" x="1442" y="950" text-anchor="middle">2</text>
<text class="s" x="1467" y="950" text-anchor="middle">3</text>
<text class="s" x="1492" y="950" text-anchor="middle">4</text>
<text class="s" x="1517" y="950" text-anchor="middle">5</text>
<text class="s" x="1542" y="950" text-anchor="middle">6</text>
<text class="s" x="1567" y="950" text-anchor="middle">7</text>
<text class="s" x="1592" y="950" text-anchor="middle">8</text>
<text class="s" x="1617" y="950" text-anchor="middle">9</text>
<text class="s" x="1641.75" y="950" text-anchor="middle">10</text>
<text class="s" x="1417" y="975" text-anchor="middle">1</text>
<text class="s" x="1442" y="975" text-anchor="middle">2</text>
<text class="s" x="1467" y="975" text-anchor="middle">3</text>
<text class="s" x="1492" y="975" text-anchor="middle">4</text>
<text class="s" x="1517" y="975" text-anchor="middle">5</text>
<text class="s" x="1542" y="975" text-anchor="middle">6</text>
<text class="s" x="1567" y="975" text-anchor="middle">7</text>
<text class="s" x="1592" y="975" text-anchor="middle">8</text>
<text class="s" x="1617" y="975" text-anchor="middle">9</text>
<text class="s" x="1641.75" y="975" text-anchor="middle">10</text>
<text class="s" x="1417" y="1000" text-anchor="middle">1</text>
<text class="s" x="1442" y="1000" text-anchor="middle">2</text>
<text class="s" x="1467" y="1000" text-anchor="middle">3</text>
<text class="s" x="1492" y="1000" text-anchor="middle">4</text>
<text class="s" x="1517" y="1000" text-anchor="middle">5</text>
<text class="s" x="1542" y="1000" text-anchor="middle">6</text>
<text class="s" x="1567" y="1000" text-anchor="middle">7</text>
<text class="s" x="1592" y="1000" text-anchor="middle">8</text>
<text class="s" x="1617" y="1000" text-anchor="middle">9</text>
<text class="s" x="1641.75" y="1000" text-anchor="middle">10</text>
<text class="s" x="1417" y="1025" text-anchor="middle">1</text>
<text class="s" x="1442" y="1025" text-anchor="middle">2</text>
<text class="s" x="1467" y="1025" text-anchor="middle">3</text>
<text class="s" x="1492" y="1025" text-anchor="middle">4</text>
<text class="s" x="1517" y="1025" text-anchor="middle">5</text>
<text class="s" x="1542" y="1025" text-anchor="middle">6</text>
<text class="s" x="1567" y="1025" text-anchor="middle">7</text>
<text class="s" x="1592" y="1025" text-anchor="middle">8</text>
<text class="s" x="1617" y="1025" text-anchor="middle">9</text>
<text class="s" x="1641.75" y="1025" text-anchor="middle">10</text>
<text class="s" x="1417" y="1050" text-anchor="middle">1</text>
<text class="s" x="1442" y="1050" text-anchor="middle">2</text>
<text class="s" x="1467" y="1050" text-anchor="middle">3</text>
<text class="s" x="1492" y="1050" text-anchor="middle">4</text>
<text class="s" x="1517" y="1050" text-anchor="middle">5</text>
<text class="s" x="1542" y="1050" text-anchor="middle">6</text>
<text class="s" x="1567" y="1050" text-anchor="middle">7</text>
<text class="s" x="1592" y="1050" text-anchor="middle">8</text>
<text class="s" x="1617" y="1050" text-anchor="middle">9</text>
<text class="s" x="1641.75" y="1050" text-anchor="middle">10</text>
<text class="s" x="1417" y="1075" text-anchor="middle">1</text>
<text class="s" x="1442" y="1075" text-anchor="middle">2</text>
<text class="s" x="1467" y="1075" text-anchor="middle">3</text>
<text class="s" x="1492" y="1075" text-anchor="middle">4</text>
<text class="s" x="1517" y="1075" text-anchor="middle">5</text>
<text class="s" x="1542" y="1075" text-anchor="middle">6</text>
<text class="s" x="1567" y="1075" text-anchor="middle">7</text>
<text class="s" x="1592" y="1075" text-anchor="middle">8</text>
<text class="s" x="1617" y="1075" text-anchor="middle">9</text>
<text class="s" x="1641.75" y="1075" text-anchor="middle">10</text>
<text class="s" x="1417" y="1100" text-anchor="middle">1</text>
<text class="s" x="1442" y="1100" text-anchor="middle">2</text>
<text class="s" x="1467" y="1100" text-anchor="middle">3</text>
<text class="s" x="1492" y="1100" text-anchor="middle">4</text>
<text class="s" x="1517" y="1100" text-anchor="middle">5</text>
<text class="s" x="1542" y="1100" text-anchor="middle">6</text>
<text class="s" x="1567" y="1100" text-anchor="middle">7</text>
<text class="s" x="1592" y="1100" text-anchor="middle">8</text>
<text class="s" x="1617" y="1100" text-anchor="middle">9</text>
<text class="s" x="1641.75" y="1100" text-anchor="middle">10</text>
<text class="s" x="1417" y="1125" text-anchor="middle">1</text>
<text class="s" x="1442" y="1125" text-anchor="middle">2</text>
<text class="s" x="1467" y="1125" text-anchor="middle">3</text>
<text class="s" x="1492" y="1125" text-anchor="middle">4</text>
<text class="s" x="1517" y="1125" text-anchor="middle">5</text>
<text class="s" x="1542" y="1125" text-anchor="middle">6</text>
<text class="s" x="1567" y="1125" text-anchor="middle">7</text>
<text class="s" x="1592" y="1125" text-anchor="middle">8</text>
<text class="s" x="1617" y="1125" text-anchor="middle">9</text>
<text class="s" x="1641.75" y="1125" text-anchor="middle">10</text>
<text class="s" x="1417" y="1150" text-anchor="middle">1</text>
<text class="s" x="1442" y="1150" text-anchor="middle">2</text>
<text class="s" x="1467" y="1150" text-anchor="middle">3</text>
<text class="s" x="1492" y="1150" text-anchor="middle">4</text>
<text class="s" x="1517" y="1150" text-anchor="middle">5</text>
<text class="s" x="1542" y="1150" text-anchor="middle">6</text>
<text class="s" x="1567" y="1150" text-anchor="middle">7</text>
<text class="s" x="1592" y="1150" text-anchor="middle">8</text>
<text class="s" x="1617" y="1150" text-anchor="middle">9</text>
<text class="s" x="1641.75" y="1150" text-anchor="middle">10</text>
<text class="s" x="1417" y="1175" text-anchor="middle">1</text>
<text class="s" x="1442" y="1175" text-anchor="middle">2</text>
<text class="s" x="1467" y="1175" text-anchor="middle">3</text>
<text class="s" x="1492" y="1175" text-anchor="middle">4</text>
<text class="s" x="1517" y="1175" text-anchor="middle">5</text>
<text class="s" x="1542" y="1175" text-anchor="middle">6</text>
<text class="s" x="1567" y="1175" text-anchor="middle">7</text>
<text class="s" x="1592" y="1175" text-anchor="middle">8</text>
<text class="s" x="1617" y="1175" text-anchor="middle">9</text>
<text class="s" x="1641.75" y="1175" text-anchor="middle">10</text>
<text class="s" x="1417" y="1200" text-anchor="middle">1</text>
<text class="s" x="1442" y="1200" text-anchor="middle">2</text>
<text class="s" x="1467" y="1200" text-anchor="middle">3</text>
<text class="s" x="1492" y="1200" text-anchor="middle">4</text>
<text class="s" x="1517" y="1200" text-anchor="middle">5</text>
<text class="s" x="1542" y="1200" text-anchor="middle">6</text>
<text class="s" x="1567" y="1200" text-anchor="middle">7</text>
<text class="s" x="1592" y="1200" text-anchor="middle">8</text>
<text class="s" x="1617" y="1200" text-anchor="middle">9</text>
<text class="s" x="1641.75" y="1200" text-anchor="middle">10</text>
<text class="s" x="1417" y="1255" text-anchor="middle">1</text>
<text class="s" x="1442" y="1255" text-anchor="middle">2</text>
<text class="s" x="1467" y="1255" text-anchor="middle">3</text>
<text class="s" x="1492" y="1255" text-anchor="middle">4</text>
<text class="s" x="1517" y="1255" text-anchor="middle">5</text>
<text class="s" x="1542" y="1255" text-anchor="middle">6</text>
<text class="s" x="1567" y="1255" text-anchor="middle">7</text>
<text class="s" x="1592" y="1255" text-anchor="middle">8</text>
<text class="s" x="1617" y="1255" text-anchor="middle">9</text>
<text class="s" x="1641.75" y="1255" text-anchor="middle">10</text>
<text class="s" x="1417" y="1280" text-anchor="middle">1</text>
<text class="s" x="1442" y="1280" text-anchor="middle">2</text>
<text class="s" x="1467" y="1280" text-anchor="middle">3</text>
<text class="s" x="1492" y="1280" text-anchor="middle">4</text>
<text class="s" x="1517" y="1280" text-anchor="middle">5</text>
<text class="s" x="1542" y="1280" text-anchor="middle">6</text>
<text class="s" x="1567" y="1280" text-anchor="middle">7</text>
<text class="s" x="1592" y="1280" text-anchor="middle">8</text>
<text class="s" x="1617" y="1280" text-anchor="middle">9</text>
<text class="s" x="1641.75" y="1280" text-anchor="middle">10</text>
<text class="s" x="1417" y="1305" text-anchor="middle">1</text>
<text class="s" x="1442" y="1305" text-anchor="middle">2</text>
<text class="s" x="1467" y="1305" text-anchor="middle">3</text>
<text class="s" x="1492" y="1305" text-anchor="middle">4</text>
<text class="s" x="1517" y="1305" text-anchor="middle">5</text>
<text class="s" x="1542" y="1305" text-anchor="middle">6</text>
<text class="s" x="1567" y="1305" text-anchor="middle">7</text>
<text class="s" x="1592" y="1305" text-anchor="middle">8</text>
<text class="s" x="1617" y="1305" text-anchor="middle">9</text>
<text class="s" x="1641.75" y="1305" text-anchor="middle">10</text>
<text class="s" x="1417" y="1330" text-anchor="middle">1</text>
<text class="s" x="1442" y="1330" text-anchor="middle">2</text>
<text class="s" x="1467" y="1330" text-anchor="middle">3</text>
<text class="s" x="1492" y="1330" text-anchor="middle">4</text>
<text class="s" x="1517" y="1330" text-anchor="middle">5</text>
<text class="s" x="1542" y="1330" text-anchor="middle">6</text>
<text class="s" x="1567" y="1330" text-anchor="middle">7</text>
<text class="s" x="1592" y="1330" text-anchor="middle">8</text>
<text class="s" x="1617" y="1330" text-anchor="middle">9</text>
<text class="s" x="1641.75" y="1330" text-anchor="middle">10</text>
<text class="s" x="1417" y="1355" text-anchor="middle">1</text>
<text class="s" x="1442" y="1355" text-anchor="middle">2</text>
<text class="s" x="1467" y="1355" text-anchor="middle">3</text>
<text class="s" x="1492" y="1355" text-anchor="middle">4</text>
<text class="s" x="1517" y="1355" text-anchor="middle">5</text>
<text class="s" x="1542" y="1355" text-anchor="middle">6</text>
<text class="s" x="1567" y="1355" text-anchor="middle">7</text>
<text class="s" x="1592" y="1355" text-anchor="middle">8</text>
<text class="s" x="1617" y="1355" text-anchor="middle">9</text>
<text class="s" x="1641.75" y="1355" text-anchor="middle">10</text>
<text class="s" x="1417" y="1380" text-anchor="middle">1</text>
<text class="s" x="1442" y="1380" text-anchor="middle">2</text>
<text class="s" x="1467" y="1380" text-anchor="middle">3</text>
<text class="s" x="1492" y="1380" text-anchor="middle">4</text>
<text class="s" x="1517" y="1380" text-anchor="middle">5</text>
<text class="s" x="1542" y="1380" text-anchor="middle">6</text>
<text class="s" x="1567" y="1380" text-anchor="middle">7</text>
<text class="s" x="1592" y="1380" text-anchor="middle">8</text>
<text class="s" x="1617" y="1380" text-anchor="middle">9</text>
<text class="s" x="1641.75" y="1380" text-anchor="middle">10</text>
</g>
<g filter="url(#thp)">
<text class="cl" x="1670.2" y="392">1</text>
<text class="cl" x="1670.2" y="417">2</text>
<text class="cl" x="1670.2" y="442">3</text>
<text class="cl" x="1670.2" y="467">4</text>
<text class="cl" x="1670.2" y="492">5</text>
<text class="cl" x="1670.2" y="517">6</text>
<text class="cl" x="1670.2" y="542">7</text>
<text class="cl" x="1670.2" y="567">8</text>
<text class="cl" x="1670.2" y="592">9</text>
<text class="cl" x="1670.2" y="617">10</text>
<text class="cl" x="1670.2" y="642">11</text>
<text class="cl" x="1670.2" y="667">12</text>
<text class="cl" x="1670.2" y="722">13</text>
<text class="cl" x="1670.2" y="747">14</text>
<text class="cl" x="1670.2" y="772">15</text>
<text class="cl" x="1670.2" y="797">16</text>
<text class="cl" x="1670.2" y="822">17</text>
<text class="cl" x="1670.2" y="847">18</text>
<text class="cl" x="1671.2" y="925">19</text>
<text class="cl" x="1671.2" y="950">20</text>
<text class="cl" x="1671.2" y="975">21</text>
<text class="cl" x="1671.2" y="1000">22</text>
<text class="cl" x="1671.2" y="1025">23</text>
<text class="cl" x="1671.2" y="1050">24</text>
<text class="cl" x="1671.2" y="1075">25</text>
<text class="cl" x="1671.2" y="1100">26</text>
<text class="cl" x="1671.2" y="1125">27</text>
<text class="cl" x="1671.2" y="1150">28</text>
<text class="cl" x="1671.2" y="1175">29</text>
<text class="cl" x="1671.2" y="1200">30</text>
<text class="cl" x="1671.2" y="1255">31</text>
<text class="cl" x="1671.2" y="1280">32</text>
<text class="cl" x="1671.2" y="1305">33</text>
<text class="cl" x="1671.2" y="1330">34</text>
<text class="cl" x="1671.2" y="1355">35</text>
<text class="cl" x="1671.2" y="1380">36</text>
</g>
<g filter="url(#fb2)">
<text class="rl" x="449.3" y="265">1</text>
<text class="rl" x="1351.3" y="265">1</text>
<text class="rl" x="450.3" y="310">2</text>
<text class="rl" x="1352.3" y="310">2</text>
<text class="rl" x="450.3" y="355">3</text>
<text class="rl" x="1352.3" y="355">3</text>
<text class="rl" x="450.3" y="400">4</text>
<text class="rl" x="1352.3" y="400">4</text>
<text class="rl" x="450.3" y="445">5</text>
<text class="rl" x="1352.3" y="445">5</text>
<text class="rl" x="450.3" y="490">6</text>
<text class="rl" x="1352.3" y="490">6</text>
<text class="rl" x="450.3" y="535">7</text>
<text class="rl" x="1352.3" y="535">7</text>
<text class="rl" x="450.3" y="580">8</text>
<text class="rl" x="1352.3" y="580">8</text>
<text class="rl" x="450.3" y="625">9</text>
<text class="rl" x="1352.3" y="625">9</text>
<text class="rl" x="449.3" y="670">10</text>
<text class="rl" x="1359.3" y="670">10</text>
<text class="rl" x="449.3" y="715">11</text>
<text class="rl" x="1359.3" y="715">11</text>
<text class="rl" x="449.3" y="760">12</text>
<text class="rl" x="1359.3" y="760">12</text>
<text class="rl" x="449.3" y="805">13</text>
<text class="rl" x="1359.3" y="805">13</text>
<text class="rl" x="449.3" y="850">14</text>
<text class="rl" x="1359.3" y="850">14</text>
<text class="rl" x="449.3" y="925">15</text>
<text class="rl" x="1359.3" y="925">15</text>
<text class="rl" x="449.3" y="970">16</text>
<text class="rl" x="1359.3" y="970">16</text>
<text class="rl" x="449.3" y="1015">17</text>
<text class="rl" x="1359.3" y="1015">17</text>
<text class="rl" x="449.3" y="1060">18</text>
<text class="rl" x="1359.3" y="1060">18</text>
<text class="rl" x="449.3" y="1105">19</text>
<text class="rl" x="1359.3" y="1105">19</text>
<text class="rl" x="450.3" y="1150">20</text>
<text class="rl" x="1360.3" y="1150">20</text>
<text class="rl" x="450.3" y="1195">21</text>
<text class="rl" x="1360.3" y="1195">21</text>
<text class="rl" x="450.3" y="1240">22</text>
<text class="rl" x="1360.3" y="1240">22</text>
<text class="rl" x="450.3" y="1285">23</text>
<text class="rl" x="1360.3" y="1285">23</text>
<text class="rl" x="450.3" y="1330">24</text>
<text class="rl" x="1360.3" y="1330">24</text>
<text class="rl" x="450.3" y="1375">25</text>
<text class="rl" x="1360.3" y="1375">25</text>
<text class="rl" x="450.3" y="1420">26</text>
<text class="rl" x="1360.3" y="1420">26</text>
<text class="rl" x="450.3" y="1465">27</text>
<text class="rl" x="1360.3" y="1465">27</text>
<text class="rl" x="450.3" y="1510">28</text>
<text class="rl" x="1360.3" y="1510">28</text>
<text class="rl" x="450.3" y="1555">29</text>
<text class="rl" x="1360.3" y="1555">29</text>
<text class="rl" x="450.3" y="1600">30</text>
<text class="rl" x="1360.3" y="1600">30</text>
<text class="rl" x="450.3" y="1645">31</text>
<text class="rl" x="1360.3" y="1645">31</text>
<text class="rl" x="450.3" y="1690">32</text>
<text class="rl" x="1360.3" y="1690">32</text>
<text class="rl" x="450.3" y="1735">33</text>
<text class="rl" x="1360.3" y="1735">33</text>
<text class="rl" x="450.3" y="1780">34</text>
<text class="rl" x="1360.3" y="1780">34</text>
<text class="b36" x="1490" y="312">BAR</text>
<text class="b36" x="268" y="1727">BAR</text>
<text class="b36" x="967.5" y="1901">FOH</text>
</g>
<g filter="url(#fb)">
<text class="b48" x="867.4" y="94">SVIÐ</text>
<text class="b48" x="773" y="230">A</text>
<text class="b48" x="1220" y="230">A</text>
<text class="b48" x="771" y="900">B</text>
<text class="b48" x="1221" y="900">B</text>
<text class="b48" x="236.5" y="319">E</text>
<text class="b48" x="207.5" y="692">E</text>
<text class="b48" x="209" y="1079">F</text>
<text class="b48" x="222.5" y="1440">F</text>
<text class="b48" x="1713" y="549">C</text>
<text class="b48" x="1712" y="791">C</text>
<text class="b48" x="1712" y="1072">C</text>
<text class="b48" x="1712" y="1329">C</text>
<text class="b48" x="1514" y="1562">D</text>
<text class="b48" x="1516" y="1771">D</text>
<text class="b24" x="249.5" y="116">Ónúmeruð sæti</text>
<text class="b24" x="249.5" y="507">Ónúmeruð sæti</text>
<text class="b24" x="249.5" y="906">Ónúmeruð sæti</text>
<text class="b24" x="249.5" y="1250">Ónúmeruð sæti</text>
<text class="b24" x="1409" y="1432">Ónúmeruð sæti</text>
<text class="b24" x="1410.5" y="1689">Ónúmeruð sæti</text>
</g>
</svg>
</body></html>
